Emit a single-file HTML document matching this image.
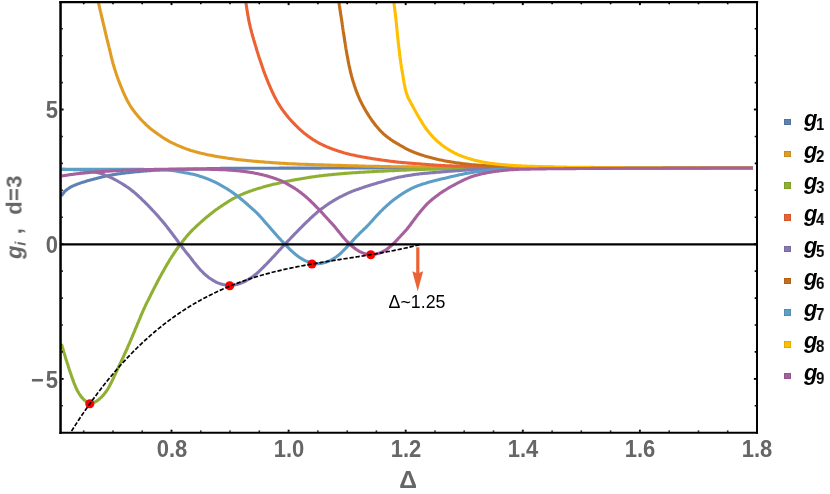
<!DOCTYPE html><html><head><meta charset="utf-8"><title>chart</title><style>
html,body{margin:0;padding:0;background:#fff}
#p{position:relative;width:830px;height:494px;overflow:hidden;background:#fff;font-family:"Liberation Sans",sans-serif}
.t{position:absolute;white-space:nowrap;line-height:1;will-change:transform;-webkit-font-smoothing:antialiased}
.tk{font-weight:bold;font-size:22px;color:#666666}
.lg{font-weight:bold;font-style:italic;font-size:22.3px;color:#000}
.sb{font-weight:bold;font-style:normal;font-size:14.8px}
.sq{position:absolute;width:6px;height:6px;border:0.7px solid}

</style></head><body><div id="p">
<svg width="830" height="494" viewBox="0 0 830 494" style="position:absolute;left:0;top:0">
<defs><clipPath id="c"><rect x="60.5" y="2.0" width="696.5" height="430.8"/></clipPath></defs>
<g clip-path="url(#c)" fill="none" stroke-linejoin="round" stroke-linecap="butt">
<path d="M61.5,196.0 L62.0,195.1 L62.5,194.3 L63.1,193.5 L63.7,192.7 L64.3,191.9 L65.0,191.2 L65.7,190.5 L66.5,189.9 L67.3,189.3 L68.1,188.7 L68.9,188.2 L69.8,187.6 L70.6,187.1 L71.5,186.7 L72.4,186.2 L73.3,185.8 L74.2,185.4 L75.2,185.0 L76.1,184.6 L77.0,184.3 L78.0,183.9 L78.9,183.6 L79.8,183.3 L80.8,182.9 L81.7,182.6 L82.7,182.3 L83.6,182.0 L84.6,181.7 L85.5,181.4 L86.5,181.1 L87.5,180.8 L88.4,180.5 L89.4,180.3 L90.4,180.0 L91.3,179.8 L92.3,179.5 L93.3,179.3 L94.2,179.0 L95.2,178.7 L96.2,178.5 L97.1,178.2 L98.1,178.0 L99.1,177.7 L100.0,177.5 L101.0,177.3 L102.0,177.0 L103.0,176.8 L103.9,176.6 L104.9,176.3 L105.9,176.1 L106.9,175.9 L107.8,175.7 L108.8,175.5 L109.8,175.3 L110.8,175.2 L111.8,175.0 L112.8,174.8 L113.7,174.6 L114.7,174.5 L115.7,174.3 L116.7,174.1 L117.7,174.0 L118.7,173.8 L119.7,173.7 L120.7,173.6 L121.7,173.4 L122.6,173.3 L123.6,173.2 L124.6,173.1 L125.6,172.9 L126.6,172.8 L127.6,172.7 L128.6,172.6 L129.6,172.5 L130.6,172.4 L131.6,172.3 L132.6,172.2 L133.6,172.0 L134.6,171.9 L135.6,171.8 L136.6,171.8 L137.6,171.7 L138.6,171.6 L139.6,171.5 L140.6,171.4 L141.5,171.3 L142.5,171.2 L143.5,171.1 L144.5,171.0 L145.5,171.0 L146.5,170.9 L147.5,170.8 L148.5,170.7 L149.5,170.7 L150.5,170.6 L151.5,170.5 L152.5,170.5 L153.5,170.4 L154.5,170.3 L155.5,170.3 L156.5,170.2 L157.5,170.2 L158.5,170.1 L159.5,170.1 L160.5,170.0 L161.5,170.0 L162.5,169.9 L163.5,169.9 L164.5,169.9 L165.5,169.8 L166.5,169.8 L167.5,169.8 L168.5,169.7 L169.5,169.7 L170.5,169.7 L171.5,169.6 L172.5,169.6 L173.5,169.5 L174.5,169.5 L175.5,169.5 L176.5,169.5 L177.5,169.4 L178.5,169.4 L179.5,169.4 L180.5,169.3 L181.5,169.3 L182.5,169.3 L183.5,169.2 L184.5,169.2 L185.5,169.2 L186.5,169.1 L187.5,169.1 L188.5,169.1 L189.5,169.1 L190.5,169.0 L191.5,169.0 L192.5,169.0 L193.5,169.0 L194.5,168.9 L195.5,168.9 L196.5,168.9 L197.5,168.9 L198.5,168.8 L199.5,168.8 L200.5,168.8 L201.5,168.8 L202.5,168.7 L203.5,168.7 L204.5,168.7 L205.5,168.7 L206.5,168.7 L207.5,168.6 L208.5,168.6 L209.5,168.6 L210.5,168.6 L211.5,168.6 L212.5,168.6 L213.5,168.5 L214.5,168.5 L215.5,168.5 L216.5,168.5 L217.5,168.5 L218.5,168.5 L219.5,168.5 L220.5,168.4 L221.5,168.4 L222.5,168.4 L223.5,168.4 L224.5,168.4 L225.5,168.4 L226.5,168.4 L227.5,168.4 L228.5,168.4 L229.5,168.3 L230.5,168.3 L231.5,168.3 L232.5,168.3 L233.5,168.3 L234.5,168.3 L235.5,168.3 L236.5,168.3 L237.5,168.3 L238.5,168.3 L239.5,168.3 L240.5,168.3 L241.5,168.3 L242.5,168.3 L243.5,168.3 L244.5,168.3 L245.5,168.2 L246.5,168.2 L247.5,168.2 L248.5,168.2 L249.5,168.2 L250.5,168.2 L251.5,168.2 L252.5,168.2 L253.5,168.2 L254.5,168.2 L255.5,168.2 L256.5,168.2 L257.5,168.2 L258.5,168.2 L259.5,168.2 L260.5,168.2 L261.5,168.2 L262.5,168.2 L263.5,168.2 L264.5,168.2 L265.5,168.2 L266.5,168.2 L267.5,168.2 L268.5,168.2 L269.5,168.2 L270.5,168.2 L271.5,168.2 L272.5,168.2 L273.5,168.2 L274.5,168.2 L275.6,168.2 L276.6,168.2 L277.6,168.2 L278.6,168.2 L279.6,168.1 L280.6,168.1 L281.6,168.1 L282.6,168.1 L283.6,168.1 L284.6,168.1 L285.6,168.1 L286.6,168.1 L287.6,168.1 L288.6,168.1 L289.6,168.1 L290.6,168.1 L291.6,168.1 L292.6,168.1 L293.6,168.1 L294.6,168.1 L295.6,168.1 L296.6,168.1 L297.6,168.1 L298.6,168.1 L299.6,168.1 L300.6,168.1 L301.6,168.1 L302.6,168.1 L303.6,168.1 L304.6,168.1 L305.6,168.1 L306.6,168.1 L307.6,168.1 L308.6,168.1 L309.6,168.1 L310.6,168.1 L311.6,168.1 L312.6,168.1 L313.6,168.1 L314.6,168.1 L315.6,168.1 L316.6,168.1 L317.6,168.1 L318.6,168.1 L319.6,168.1 L320.6,168.1 L321.6,168.0 L322.6,168.0 L323.6,168.0 L324.6,168.0 L325.6,168.0 L326.6,168.0 L327.6,168.0 L328.6,168.0 L329.6,168.0 L330.6,168.0 L331.6,168.0 L332.6,168.0 L333.6,168.0 L334.6,168.0 L335.6,168.0 L336.6,168.0 L337.6,168.0 L338.6,168.0 L339.6,168.0 L340.6,168.0 L341.6,168.0 L342.6,168.0 L343.6,168.0 L344.6,168.0 L345.6,168.0 L346.6,168.0 L347.6,168.0 L348.6,168.0 L349.6,168.0 L350.6,168.0 L351.6,168.0 L352.6,168.0 L353.6,168.0 L354.6,168.0 L355.6,168.0 L356.6,168.0 L357.6,168.0 L358.6,168.0 L359.6,168.0 L360.6,168.0 L361.6,168.0 L362.6,168.0 L363.6,168.0 L364.6,168.0 L365.6,168.0 L366.6,168.0 L367.6,168.0 L368.6,168.0 L369.6,168.0 L370.6,168.0 L371.6,168.0 L372.6,168.0 L373.6,168.0 L374.6,168.0 L375.6,168.0 L376.6,168.0 L377.6,168.0 L378.6,168.0 L379.6,168.0 L380.6,168.0 L381.6,168.0 L382.6,168.0 L383.6,168.0 L384.6,168.0 L385.6,168.0 L386.6,168.0 L387.6,168.0 L388.6,168.0 L389.6,168.0 L390.6,168.0 L391.6,168.0 L392.6,168.0 L393.6,168.0 L394.6,168.0 L395.6,168.0 L396.6,168.0 L397.6,168.0 L398.6,168.0 L399.6,168.0 L400.6,168.0 L401.6,168.0 L402.6,168.0 L403.6,168.0 L404.6,168.0 L405.6,168.0 L406.6,168.0 L407.6,168.0 L408.6,168.0 L409.6,168.0 L410.6,168.0 L411.6,168.0 L412.6,168.0 L413.6,168.0 L414.6,168.0 L415.6,168.0 L416.6,168.0 L417.6,168.0 L418.6,168.0 L419.6,168.0 L420.6,168.0 L421.6,168.0 L422.6,168.0 L423.6,168.0 L424.6,168.0 L425.6,168.0 L426.6,168.0 L427.6,168.0 L428.6,168.0 L429.6,168.0 L430.6,168.0 L431.6,168.0 L432.6,168.0 L433.6,168.0 L434.6,168.0 L435.6,168.0 L436.6,168.0 L437.6,168.0 L438.6,168.0 L439.6,168.0 L440.6,168.0 L441.6,168.0 L442.6,168.0 L443.6,168.0 L444.6,168.0 L445.6,168.0 L446.6,168.0 L447.6,168.0 L448.6,168.0 L449.6,168.0 L450.6,168.0 L451.6,168.0 L452.6,168.0 L453.6,168.0 L454.6,168.0 L455.6,168.0 L456.6,168.0 L457.6,168.0 L458.6,168.0 L459.6,168.0 L460.6,168.0 L461.6,168.0 L462.6,168.0 L463.6,168.0 L464.6,168.0 L465.6,168.0 L466.7,168.0 L467.7,168.0 L468.7,168.0 L469.7,168.0 L470.7,168.0 L471.7,168.0 L472.7,168.0 L473.7,168.0 L474.7,168.0 L475.7,168.0 L476.7,168.0 L477.7,168.0 L478.7,168.0 L479.7,168.0 L480.7,168.0 L481.7,168.0 L482.7,168.0 L483.7,168.0 L484.7,168.0 L485.7,168.0 L486.7,168.0 L487.7,168.0 L488.7,168.0 L489.7,168.0 L490.7,168.0 L491.7,168.0 L492.7,168.0 L493.7,168.0 L494.7,168.0 L495.7,168.0 L496.7,168.0 L497.7,168.0 L498.7,168.0 L499.7,168.0 L500.7,168.0 L501.7,168.0 L502.7,168.0 L503.7,168.0 L504.7,168.0 L505.7,168.0 L506.7,168.0 L507.7,168.0 L508.7,168.0 L509.7,168.0 L510.7,168.0 L511.7,168.0 L512.7,168.0 L513.7,168.0 L514.7,168.0 L515.7,168.0 L516.7,168.0 L517.7,168.0 L518.7,168.0 L519.7,168.0 L520.7,168.0 L521.7,168.0 L522.7,168.0 L523.7,168.0 L524.7,168.0 L525.7,168.0 L526.7,168.0 L527.7,168.0 L528.7,168.0 L529.7,168.0 L530.7,168.0 L531.7,168.0 L532.7,168.0 L533.7,168.0 L534.7,168.0 L535.7,168.0 L536.7,168.0 L537.7,168.0 L538.7,168.0 L539.7,168.0 L540.7,168.0 L541.7,168.0 L542.7,168.0 L543.7,168.0 L544.7,168.0 L545.7,168.0 L546.7,168.0 L547.7,168.0 L548.7,168.0 L549.7,168.0 L550.7,168.0 L551.7,168.0 L552.7,168.0 L553.7,168.0 L554.7,168.0 L555.7,168.0 L556.7,168.0 L557.7,168.0 L558.7,168.0 L559.7,168.0 L560.7,168.0 L561.7,168.0 L562.7,168.0 L563.7,168.0 L564.7,168.0 L565.7,168.0 L566.7,168.0 L567.7,168.0 L568.7,168.0 L569.7,168.0 L570.7,168.0 L571.7,168.0 L572.7,168.0 L573.7,168.0 L574.7,168.0 L575.7,168.0 L576.7,168.0 L577.7,168.0 L578.7,168.0 L579.7,168.0 L580.7,168.0 L581.7,168.0 L582.7,168.0 L583.7,168.0 L584.7,168.0 L585.7,168.0 L586.7,168.0 L587.7,168.0 L588.7,168.0 L589.7,168.0 L590.7,168.0 L591.7,168.0 L592.7,168.0 L593.7,168.0 L594.7,168.0 L595.7,168.0 L596.7,168.0 L597.7,168.0 L598.7,168.0 L599.7,168.0 L600.7,168.0 L601.7,168.0 L602.7,168.0 L603.7,168.0 L604.7,168.0 L605.7,168.0 L606.7,168.0 L607.7,168.0 L608.7,168.0 L609.7,168.0 L610.7,168.0 L611.7,168.0 L612.7,168.0 L613.7,168.0 L614.7,168.0 L615.7,168.0 L616.7,168.0 L617.7,168.0 L618.7,168.0 L619.7,168.0 L620.7,168.0 L621.7,168.0 L622.7,168.0 L623.7,168.0 L624.7,168.0 L625.7,168.0 L626.7,168.0 L627.7,168.0 L628.7,168.0 L629.7,168.0 L630.7,168.0 L631.7,168.0 L632.7,168.0 L633.7,168.0 L634.7,168.0 L635.7,168.0 L636.7,168.0 L637.7,168.0 L638.7,168.0 L639.7,168.0 L640.7,168.0 L641.7,168.0 L642.7,168.0 L643.7,168.0 L644.7,168.0 L645.7,168.0 L646.7,168.0 L647.7,168.0 L648.7,168.0 L649.7,168.0 L650.7,168.0 L651.7,168.0 L652.7,168.0 L653.7,168.0 L654.7,168.0 L655.7,168.0 L656.7,168.0 L657.8,168.0 L658.8,168.0 L659.8,168.0 L660.8,168.0 L661.8,168.0 L662.8,168.0 L663.8,168.0 L664.8,168.0 L665.8,168.0 L666.8,168.0 L667.8,168.0 L668.8,168.0 L669.8,168.0 L670.8,168.0 L671.8,168.0 L672.8,168.0 L673.8,168.0 L674.8,168.0 L675.8,168.0 L676.8,168.0 L677.8,168.0 L678.8,168.0 L679.8,168.0 L680.8,168.0 L681.8,168.0 L682.8,168.0 L683.8,168.0 L684.8,168.0 L685.8,168.0 L686.8,168.0 L687.8,168.0 L688.8,168.0 L689.8,168.0 L690.8,168.0 L691.8,168.0 L692.8,168.0 L693.8,168.0 L694.8,168.0 L695.8,168.0 L696.8,168.0 L697.8,168.0 L698.8,168.0 L699.8,168.0 L700.8,168.0 L701.8,168.0 L702.8,168.0 L703.8,168.0 L704.8,168.0 L705.8,168.0 L706.8,168.0 L707.8,168.0 L708.8,168.0 L709.8,168.0 L710.8,168.0 L711.8,168.0 L712.8,168.0 L713.8,168.0 L714.8,168.0 L715.8,168.0 L716.8,168.0 L717.8,168.0 L718.8,168.0 L719.8,168.0 L720.8,168.0 L721.8,168.0 L722.8,168.0 L723.8,168.0 L724.8,168.0 L725.8,168.0 L726.8,168.0 L727.8,168.0 L728.8,168.0 L729.8,168.0 L730.8,168.0 L731.8,168.0 L732.8,168.0 L733.8,168.0 L734.8,168.0 L735.8,168.0 L736.8,168.0 L737.8,168.0 L738.8,168.0 L739.8,168.0 L740.8,168.0 L741.8,168.0 L742.8,168.0 L743.8,168.0 L744.8,168.0 L745.8,168.0 L746.8,168.0 L747.8,168.0 L748.8,168.0 L749.8,168.0 L750.8,168.0 L751.8,168.0 L752.8,168.0" stroke="#5E81B5" stroke-width="3.1"/>
<path d="M97.4,-2.0 L97.6,-1.0 L97.8,-0.0 L98.0,0.9 L98.3,1.9 L98.5,2.9 L98.7,3.9 L98.9,4.8 L99.2,5.8 L99.4,6.8 L99.6,7.8 L99.8,8.7 L100.1,9.7 L100.3,10.7 L100.5,11.6 L100.8,12.6 L101.0,13.6 L101.2,14.6 L101.4,15.5 L101.7,16.5 L101.9,17.5 L102.1,18.5 L102.4,19.4 L102.6,20.4 L102.8,21.4 L103.0,22.4 L103.3,23.3 L103.5,24.3 L103.7,25.3 L104.0,26.2 L104.2,27.2 L104.4,28.2 L104.6,29.2 L104.9,30.1 L105.1,31.1 L105.3,32.1 L105.5,33.1 L105.8,34.0 L106.0,35.0 L106.2,36.0 L106.5,37.0 L106.7,37.9 L106.9,38.9 L107.2,39.9 L107.4,40.8 L107.7,41.8 L107.9,42.8 L108.2,43.8 L108.4,44.7 L108.7,45.7 L108.9,46.7 L109.1,47.6 L109.4,48.6 L109.6,49.6 L109.8,50.5 L110.1,51.5 L110.3,52.5 L110.5,53.5 L110.7,54.4 L111.0,55.4 L111.2,56.4 L111.4,57.4 L111.7,58.3 L111.9,59.3 L112.2,60.3 L112.4,61.2 L112.7,62.2 L113.0,63.2 L113.2,64.1 L113.5,65.1 L113.8,66.0 L114.1,67.0 L114.4,68.0 L114.7,68.9 L115.0,69.9 L115.3,70.8 L115.6,71.8 L115.9,72.7 L116.2,73.7 L116.5,74.6 L116.8,75.6 L117.1,76.5 L117.5,77.5 L117.8,78.4 L118.2,79.3 L118.5,80.3 L118.9,81.2 L119.2,82.2 L119.6,83.1 L119.9,84.0 L120.3,84.9 L120.7,85.9 L121.1,86.8 L121.5,87.7 L121.9,88.6 L122.2,89.6 L122.6,90.5 L123.0,91.4 L123.4,92.3 L123.8,93.2 L124.2,94.1 L124.6,95.1 L125.1,96.0 L125.5,96.9 L125.9,97.8 L126.4,98.7 L126.8,99.6 L127.2,100.5 L127.7,101.3 L128.2,102.2 L128.7,103.1 L129.2,104.0 L129.7,104.8 L130.2,105.7 L130.7,106.5 L131.3,107.4 L131.8,108.2 L132.4,109.0 L133.0,109.8 L133.6,110.6 L134.2,111.4 L134.8,112.2 L135.4,113.0 L136.0,113.8 L136.7,114.6 L137.3,115.3 L137.9,116.1 L138.6,116.9 L139.3,117.6 L139.9,118.4 L140.6,119.1 L141.3,119.8 L142.0,120.5 L142.7,121.3 L143.4,122.0 L144.1,122.7 L144.8,123.4 L145.5,124.1 L146.2,124.8 L146.9,125.5 L147.7,126.2 L148.4,126.8 L149.2,127.5 L149.9,128.1 L150.7,128.8 L151.5,129.4 L152.3,130.0 L153.1,130.6 L153.9,131.2 L154.7,131.8 L155.5,132.4 L156.3,132.9 L157.1,133.5 L157.9,134.1 L158.7,134.7 L159.6,135.3 L160.4,135.8 L161.2,136.4 L162.0,137.0 L162.9,137.5 L163.7,138.1 L164.6,138.6 L165.4,139.1 L166.3,139.6 L167.1,140.1 L168.0,140.6 L168.9,141.1 L169.7,141.6 L170.6,142.1 L171.5,142.5 L172.4,143.0 L173.3,143.4 L174.2,143.8 L175.1,144.2 L176.0,144.7 L176.9,145.1 L177.9,145.5 L178.8,145.9 L179.7,146.3 L180.6,146.6 L181.5,147.0 L182.5,147.4 L183.4,147.8 L184.3,148.1 L185.3,148.5 L186.2,148.8 L187.1,149.2 L188.1,149.5 L189.0,149.8 L190.0,150.2 L190.9,150.5 L191.9,150.8 L192.8,151.1 L193.8,151.3 L194.8,151.6 L195.7,151.9 L196.7,152.1 L197.7,152.4 L198.6,152.6 L199.6,152.9 L200.6,153.1 L201.5,153.4 L202.5,153.6 L203.5,153.8 L204.5,154.0 L205.4,154.2 L206.4,154.5 L207.4,154.7 L208.4,154.9 L209.4,155.1 L210.3,155.3 L211.3,155.4 L212.3,155.6 L213.3,155.8 L214.3,156.0 L215.3,156.2 L216.2,156.4 L217.2,156.5 L218.2,156.7 L219.2,156.9 L220.2,157.0 L221.2,157.2 L222.2,157.3 L223.1,157.5 L224.1,157.6 L225.1,157.8 L226.1,157.9 L227.1,158.1 L228.1,158.2 L229.1,158.4 L230.1,158.5 L231.1,158.6 L232.0,158.8 L233.0,158.9 L234.0,159.0 L235.0,159.2 L236.0,159.3 L237.0,159.4 L238.0,159.6 L239.0,159.7 L240.0,159.8 L241.0,159.9 L242.0,160.0 L243.0,160.1 L244.0,160.2 L245.0,160.3 L246.0,160.4 L246.9,160.5 L247.9,160.6 L248.9,160.7 L249.9,160.8 L250.9,160.9 L251.9,161.0 L252.9,161.1 L253.9,161.2 L254.9,161.3 L255.9,161.4 L256.9,161.4 L257.9,161.5 L258.9,161.6 L259.9,161.7 L260.9,161.8 L261.9,161.8 L262.9,161.9 L263.9,162.0 L264.9,162.1 L265.9,162.2 L266.9,162.2 L267.9,162.3 L268.9,162.4 L269.9,162.5 L270.9,162.5 L271.9,162.6 L272.9,162.7 L273.9,162.8 L274.9,162.8 L275.9,162.9 L276.8,163.0 L277.8,163.0 L278.8,163.1 L279.8,163.1 L280.8,163.2 L281.8,163.3 L282.8,163.3 L283.8,163.4 L284.8,163.4 L285.8,163.5 L286.8,163.6 L287.8,163.6 L288.8,163.7 L289.8,163.7 L290.8,163.8 L291.8,163.8 L292.8,163.9 L293.8,163.9 L294.8,163.9 L295.8,164.0 L296.8,164.0 L297.8,164.1 L298.8,164.1 L299.8,164.2 L300.8,164.2 L301.8,164.2 L302.8,164.3 L303.8,164.3 L304.8,164.3 L305.8,164.4 L306.8,164.4 L307.8,164.4 L308.8,164.5 L309.8,164.5 L310.8,164.5 L311.8,164.6 L312.8,164.6 L313.8,164.6 L314.8,164.7 L315.8,164.7 L316.8,164.7 L317.8,164.8 L318.8,164.8 L319.8,164.8 L320.8,164.9 L321.8,164.9 L322.8,164.9 L323.8,164.9 L324.8,165.0 L325.8,165.0 L326.8,165.0 L327.8,165.1 L328.8,165.1 L329.8,165.1 L330.8,165.1 L331.8,165.2 L332.8,165.2 L333.8,165.2 L334.8,165.3 L335.8,165.3 L336.8,165.3 L337.8,165.4 L338.8,165.4 L339.8,165.4 L340.8,165.4 L341.8,165.5 L342.8,165.5 L343.8,165.5 L344.8,165.6 L345.8,165.6 L346.8,165.6 L347.8,165.7 L348.8,165.7 L349.8,165.7 L350.8,165.7 L351.8,165.8 L352.8,165.8 L353.8,165.8 L354.8,165.9 L355.8,165.9 L356.8,165.9 L357.8,165.9 L358.8,166.0 L359.8,166.0 L360.8,166.0 L361.8,166.0 L362.8,166.1 L363.8,166.1 L364.8,166.1 L365.8,166.2 L366.8,166.2 L367.8,166.2 L368.8,166.2 L369.8,166.2 L370.8,166.3 L371.8,166.3 L372.8,166.3 L373.8,166.3 L374.8,166.4 L375.8,166.4 L376.8,166.4 L377.8,166.4 L378.8,166.4 L379.8,166.5 L380.8,166.5 L381.8,166.5 L382.8,166.5 L383.8,166.5 L384.8,166.6 L385.8,166.6 L386.8,166.6 L387.8,166.6 L388.8,166.6 L389.8,166.6 L390.8,166.7 L391.8,166.7 L392.8,166.7 L393.8,166.7 L394.8,166.7 L395.8,166.7 L396.8,166.7 L397.8,166.8 L398.8,166.8 L399.8,166.8 L400.8,166.8 L401.8,166.8 L402.8,166.8 L403.8,166.8 L404.8,166.8 L405.8,166.8 L406.8,166.9 L407.8,166.9 L408.8,166.9 L409.8,166.9 L410.8,166.9 L411.8,166.9 L412.8,166.9 L413.8,166.9 L414.8,166.9 L415.8,167.0 L416.8,167.0 L417.8,167.0 L418.8,167.0 L419.8,167.0 L420.8,167.0 L421.8,167.0 L422.8,167.0 L423.8,167.0 L424.8,167.0 L425.8,167.0 L426.8,167.1 L427.8,167.1 L428.8,167.1 L429.8,167.1 L430.8,167.1 L431.8,167.1 L432.8,167.1 L433.8,167.1 L434.8,167.1 L435.8,167.1 L436.8,167.1 L437.8,167.2 L438.8,167.2 L439.8,167.2 L440.8,167.2 L441.8,167.2 L442.8,167.2 L443.8,167.2 L444.8,167.2 L445.8,167.2 L446.8,167.2 L447.8,167.2 L448.8,167.2 L449.8,167.2 L450.8,167.3 L451.8,167.3 L452.8,167.3 L453.8,167.3 L454.8,167.3 L455.8,167.3 L456.8,167.3 L457.8,167.3 L458.8,167.3 L459.8,167.3 L460.8,167.3 L461.8,167.3 L462.8,167.3 L463.8,167.3 L464.8,167.4 L465.8,167.4 L466.8,167.4 L467.8,167.4 L468.8,167.4 L469.8,167.4 L470.8,167.4 L471.8,167.4 L472.8,167.4 L473.8,167.4 L474.8,167.4 L475.8,167.4 L476.8,167.4 L477.8,167.4 L478.8,167.4 L479.8,167.4 L480.8,167.4 L481.8,167.4 L482.8,167.4 L483.8,167.5 L484.8,167.5 L485.8,167.5 L486.8,167.5 L487.8,167.5 L488.8,167.5 L489.8,167.5 L490.8,167.5 L491.8,167.5 L492.8,167.5 L493.8,167.5 L494.8,167.5 L495.8,167.5 L496.8,167.5 L497.8,167.5 L498.8,167.5 L499.8,167.5 L500.8,167.5 L501.8,167.5 L502.8,167.5 L503.8,167.5 L504.8,167.5 L505.8,167.5 L506.8,167.5 L507.8,167.5 L508.8,167.6 L509.8,167.6 L510.8,167.6 L511.8,167.6 L512.8,167.6 L513.8,167.6 L514.8,167.6 L515.8,167.6 L516.8,167.6 L517.8,167.6 L518.8,167.6 L519.8,167.6 L520.8,167.6 L521.8,167.6 L522.8,167.6 L523.8,167.6 L524.8,167.6 L525.8,167.6 L526.8,167.6 L527.8,167.6 L528.8,167.6 L529.8,167.7 L530.8,167.7 L531.8,167.7 L532.8,167.7 L533.8,167.7 L534.8,167.7 L535.8,167.7 L536.8,167.7 L537.8,167.7 L538.8,167.7 L539.8,167.7 L540.8,167.7 L541.8,167.7 L542.8,167.7 L543.8,167.7 L544.8,167.7 L545.8,167.7 L546.8,167.8 L547.8,167.8 L548.8,167.8 L549.8,167.8 L550.8,167.8 L551.8,167.8 L552.8,167.8 L553.8,167.8 L554.8,167.8 L555.8,167.8 L556.8,167.8 L557.8,167.8 L558.8,167.8 L559.8,167.8 L560.8,167.8 L561.8,167.8 L562.8,167.8 L563.8,167.9 L564.8,167.9 L565.8,167.9 L566.8,167.9 L567.8,167.9 L568.8,167.9 L569.8,167.9 L570.8,167.9 L571.8,167.9 L572.8,167.9 L573.8,167.9 L574.8,167.9 L575.8,167.9 L576.8,167.9 L577.8,167.9 L578.8,167.9 L579.8,167.9 L580.8,167.9 L581.8,167.9 L582.8,167.9 L583.8,167.9 L584.8,168.0 L585.8,168.0 L586.8,168.0 L587.8,168.0 L588.8,168.0 L589.8,168.0 L590.8,168.0 L591.8,168.0 L592.8,168.0 L593.8,168.0 L594.8,168.0 L595.8,168.0 L596.8,168.0 L597.8,168.0 L598.8,168.0 L599.8,168.0 L600.8,168.0 L601.8,168.0 L602.8,168.0 L603.8,168.0 L604.8,168.0 L605.8,168.0 L606.8,168.0 L607.8,168.0 L608.8,168.0 L609.8,168.0 L610.8,168.0 L611.8,168.0 L612.8,168.0 L613.8,168.0 L614.8,168.0 L615.8,168.0 L616.8,168.0 L617.8,168.0 L618.8,168.0 L619.8,168.0 L620.8,168.0 L621.8,168.0 L622.8,168.0 L623.8,168.0 L624.8,168.0 L625.8,168.0 L626.8,168.0 L627.8,168.0 L628.8,168.0 L629.8,168.0 L630.8,168.0 L631.8,168.0 L632.8,168.0 L633.8,168.0 L634.8,168.0 L635.8,168.0 L636.8,168.0 L637.8,168.0 L638.8,168.0 L639.8,168.0 L640.8,168.0 L641.8,168.0 L642.8,168.0 L643.8,168.0 L644.8,168.0 L645.8,168.0 L646.8,168.0 L647.8,168.0 L648.8,168.0 L649.8,168.0 L650.8,168.0 L651.8,168.0 L652.8,168.0 L653.8,168.0 L654.8,168.0 L655.8,168.0 L656.8,168.0 L657.8,168.0 L658.8,168.0 L659.8,168.0 L660.8,168.0 L661.8,168.0 L662.8,168.0 L663.8,168.0 L664.8,168.0 L665.8,168.0 L666.8,168.0 L667.8,168.0 L668.8,168.0 L669.8,168.0 L670.8,168.0 L671.8,168.0 L672.8,168.0 L673.8,168.0 L674.8,168.0 L675.8,168.0 L676.8,168.0 L677.8,168.0 L678.8,168.0 L679.8,168.0 L680.8,168.0 L681.8,168.0 L682.8,168.0 L683.8,168.0 L684.8,168.0 L685.8,168.0 L686.8,168.0 L687.8,168.0 L688.8,168.0 L689.8,168.0 L690.8,168.0 L691.8,168.0 L692.8,168.0 L693.8,168.0 L694.8,168.0 L695.8,168.0 L696.8,168.0 L697.8,168.0 L698.8,168.0 L699.8,168.0 L700.8,168.0 L701.8,168.0 L702.8,168.0 L703.8,168.0 L704.8,168.0 L705.8,168.0 L706.8,168.0 L707.8,168.0 L708.8,168.0 L709.8,168.0 L710.8,168.0 L711.8,168.0 L712.8,168.0 L713.8,168.0 L714.8,168.0 L715.8,168.0 L716.8,168.0 L717.8,168.0 L718.8,168.0 L719.8,168.0 L720.8,168.0 L721.8,168.0 L722.8,168.0 L723.8,168.0 L724.8,168.0 L725.8,168.0 L726.8,168.0 L727.8,168.0 L728.8,168.0 L729.8,168.0 L730.8,168.0 L731.8,168.0 L732.8,168.0 L733.8,168.0 L734.8,168.0 L735.8,168.0 L736.8,168.0 L737.8,168.0 L738.8,168.0 L739.8,168.0 L740.8,168.0 L741.8,168.0 L742.8,168.0 L743.8,168.0 L744.8,168.0 L745.8,168.0 L746.8,168.0 L747.8,168.0 L748.8,168.0 L749.8,168.0 L750.8,168.0 L751.8,168.0 L752.8,168.0" stroke="#E19C24" stroke-width="3.1"/>
<path d="M61.5,344.0 L61.8,345.0 L62.1,345.9 L62.3,346.9 L62.6,347.8 L62.9,348.8 L63.2,349.8 L63.4,350.7 L63.7,351.7 L64.0,352.6 L64.3,353.6 L64.6,354.6 L64.9,355.5 L65.2,356.5 L65.5,357.4 L65.7,358.4 L66.0,359.3 L66.4,360.3 L66.7,361.3 L67.0,362.2 L67.3,363.2 L67.6,364.1 L67.9,365.1 L68.2,366.0 L68.5,367.0 L68.8,367.9 L69.1,368.9 L69.4,369.8 L69.7,370.8 L70.1,371.7 L70.4,372.7 L70.7,373.6 L71.0,374.6 L71.3,375.5 L71.7,376.5 L72.0,377.4 L72.3,378.4 L72.7,379.3 L73.0,380.2 L73.3,381.2 L73.7,382.1 L74.0,383.0 L74.4,384.0 L74.8,384.9 L75.2,385.8 L75.6,386.7 L75.9,387.7 L76.4,388.6 L76.8,389.5 L77.2,390.4 L77.7,391.3 L78.2,392.1 L78.7,393.0 L79.2,393.8 L79.8,394.7 L80.3,395.5 L80.9,396.3 L81.5,397.1 L82.2,397.8 L82.9,398.6 L83.6,399.3 L84.3,400.0 L85.0,400.6 L85.8,401.2 L86.6,401.7 L87.5,402.2 L88.4,402.6 L89.3,402.9 L90.2,403.0 L91.1,403.0 L92.1,402.9 L93.0,402.7 L94.0,402.4 L94.9,402.0 L95.7,401.6 L96.6,401.1 L97.4,400.5 L98.2,400.0 L99.0,399.3 L99.8,398.7 L100.5,398.0 L101.2,397.3 L101.9,396.6 L102.6,395.9 L103.3,395.2 L103.9,394.4 L104.6,393.6 L105.2,392.8 L105.8,392.0 L106.3,391.2 L106.9,390.4 L107.5,389.6 L108.0,388.7 L108.5,387.8 L109.0,387.0 L109.5,386.1 L109.9,385.2 L110.4,384.3 L110.8,383.4 L111.3,382.5 L111.7,381.6 L112.2,380.7 L112.6,379.8 L113.0,378.9 L113.5,378.0 L113.9,377.1 L114.3,376.2 L114.7,375.3 L115.1,374.4 L115.6,373.5 L116.0,372.6 L116.4,371.7 L116.8,370.8 L117.2,369.9 L117.7,369.0 L118.1,368.0 L118.5,367.1 L118.9,366.2 L119.4,365.3 L119.8,364.4 L120.2,363.5 L120.6,362.6 L121.1,361.7 L121.5,360.8 L121.9,359.9 L122.3,359.0 L122.8,358.1 L123.2,357.2 L123.6,356.3 L124.0,355.4 L124.4,354.4 L124.8,353.5 L125.3,352.6 L125.7,351.7 L126.1,350.8 L126.5,349.9 L126.9,349.0 L127.3,348.1 L127.7,347.1 L128.1,346.2 L128.5,345.3 L128.9,344.4 L129.3,343.5 L129.7,342.6 L130.1,341.6 L130.5,340.7 L130.9,339.8 L131.3,338.9 L131.7,338.0 L132.1,337.0 L132.4,336.1 L132.8,335.2 L133.2,334.3 L133.6,333.3 L134.0,332.4 L134.4,331.5 L134.8,330.6 L135.1,329.7 L135.5,328.7 L135.9,327.8 L136.3,326.9 L136.7,326.0 L137.1,325.0 L137.4,324.1 L137.8,323.2 L138.2,322.3 L138.6,321.3 L139.0,320.4 L139.4,319.5 L139.8,318.6 L140.2,317.6 L140.5,316.7 L140.9,315.8 L141.3,314.9 L141.7,314.0 L142.1,313.0 L142.5,312.1 L142.9,311.2 L143.3,310.3 L143.7,309.4 L144.1,308.5 L144.5,307.6 L145.0,306.6 L145.4,305.7 L145.8,304.8 L146.2,303.9 L146.7,303.0 L147.1,302.1 L147.6,301.2 L148.0,300.4 L148.5,299.5 L148.9,298.6 L149.4,297.7 L149.8,296.8 L150.3,295.9 L150.7,295.0 L151.2,294.1 L151.6,293.2 L152.1,292.3 L152.5,291.4 L153.0,290.5 L153.4,289.6 L153.9,288.7 L154.3,287.8 L154.8,287.0 L155.2,286.1 L155.7,285.2 L156.2,284.3 L156.6,283.4 L157.1,282.5 L157.5,281.6 L158.0,280.7 L158.5,279.9 L158.9,279.0 L159.4,278.1 L159.9,277.2 L160.4,276.3 L160.9,275.4 L161.3,274.6 L161.8,273.7 L162.3,272.8 L162.8,271.9 L163.3,271.1 L163.8,270.2 L164.3,269.3 L164.7,268.5 L165.2,267.6 L165.7,266.7 L166.2,265.9 L166.7,265.0 L167.2,264.1 L167.8,263.3 L168.3,262.4 L168.8,261.5 L169.3,260.7 L169.8,259.8 L170.3,259.0 L170.9,258.1 L171.4,257.3 L171.9,256.4 L172.5,255.6 L173.0,254.8 L173.6,253.9 L174.1,253.1 L174.7,252.3 L175.3,251.4 L175.8,250.6 L176.4,249.8 L177.0,249.0 L177.6,248.2 L178.1,247.4 L178.7,246.5 L179.3,245.7 L179.9,244.9 L180.5,244.1 L181.1,243.3 L181.8,242.6 L182.4,241.8 L183.0,241.0 L183.6,240.2 L184.2,239.4 L184.9,238.7 L185.5,237.9 L186.1,237.1 L186.8,236.3 L187.4,235.6 L188.1,234.8 L188.7,234.0 L189.4,233.3 L190.0,232.5 L190.7,231.8 L191.4,231.1 L192.1,230.4 L192.8,229.7 L193.5,229.0 L194.2,228.3 L195.0,227.6 L195.7,226.9 L196.4,226.2 L197.2,225.5 L197.9,224.9 L198.7,224.2 L199.4,223.5 L200.1,222.9 L200.9,222.2 L201.6,221.5 L202.4,220.8 L203.1,220.2 L203.9,219.5 L204.6,218.9 L205.4,218.2 L206.2,217.6 L206.9,216.9 L207.7,216.3 L208.5,215.7 L209.3,215.1 L210.1,214.4 L210.8,213.8 L211.6,213.2 L212.4,212.6 L213.2,211.9 L214.0,211.3 L214.8,210.7 L215.6,210.1 L216.4,209.5 L217.2,209.0 L218.0,208.4 L218.8,207.8 L219.7,207.2 L220.5,206.7 L221.3,206.1 L222.1,205.6 L223.0,205.0 L223.8,204.5 L224.6,203.9 L225.5,203.4 L226.3,202.8 L227.2,202.3 L228.0,201.7 L228.9,201.2 L229.7,200.7 L230.6,200.2 L231.4,199.7 L232.3,199.2 L233.2,198.7 L234.1,198.2 L235.0,197.8 L235.8,197.3 L236.7,196.9 L237.6,196.4 L238.5,196.0 L239.4,195.5 L240.3,195.1 L241.2,194.7 L242.1,194.3 L243.1,193.9 L244.0,193.5 L244.9,193.1 L245.8,192.7 L246.8,192.4 L247.7,192.0 L248.6,191.7 L249.6,191.3 L250.5,191.0 L251.5,190.7 L252.4,190.4 L253.4,190.0 L254.3,189.7 L255.3,189.4 L256.2,189.1 L257.2,188.8 L258.1,188.5 L259.1,188.2 L260.1,187.9 L261.0,187.7 L262.0,187.4 L262.9,187.1 L263.9,186.8 L264.9,186.6 L265.8,186.3 L266.8,186.0 L267.8,185.8 L268.7,185.5 L269.7,185.3 L270.7,185.0 L271.6,184.8 L272.6,184.6 L273.6,184.3 L274.6,184.1 L275.5,183.9 L276.5,183.7 L277.5,183.4 L278.5,183.2 L279.4,183.0 L280.4,182.8 L281.4,182.6 L282.4,182.3 L283.3,182.1 L284.3,181.9 L285.3,181.7 L286.3,181.5 L287.3,181.3 L288.2,181.1 L289.2,180.9 L290.2,180.7 L291.2,180.5 L292.2,180.3 L293.2,180.1 L294.1,180.0 L295.1,179.8 L296.1,179.6 L297.1,179.4 L298.1,179.2 L299.1,179.1 L300.0,178.9 L301.0,178.7 L302.0,178.6 L303.0,178.4 L304.0,178.2 L305.0,178.1 L306.0,177.9 L307.0,177.7 L307.9,177.6 L308.9,177.4 L309.9,177.3 L310.9,177.1 L311.9,177.0 L312.9,176.8 L313.9,176.7 L314.9,176.6 L315.9,176.4 L316.9,176.3 L317.8,176.2 L318.8,176.0 L319.8,175.9 L320.8,175.8 L321.8,175.7 L322.8,175.6 L323.8,175.4 L324.8,175.3 L325.8,175.2 L326.8,175.1 L327.8,175.0 L328.8,174.9 L329.8,174.8 L330.8,174.7 L331.8,174.6 L332.8,174.5 L333.8,174.4 L334.8,174.3 L335.7,174.2 L336.7,174.1 L337.7,174.0 L338.7,174.0 L339.7,173.9 L340.7,173.8 L341.7,173.7 L342.7,173.6 L343.7,173.5 L344.7,173.4 L345.7,173.4 L346.7,173.3 L347.7,173.2 L348.7,173.1 L349.7,173.0 L350.7,173.0 L351.7,172.9 L352.7,172.8 L353.7,172.8 L354.7,172.7 L355.7,172.6 L356.7,172.6 L357.7,172.5 L358.7,172.4 L359.7,172.4 L360.7,172.3 L361.7,172.2 L362.7,172.2 L363.7,172.1 L364.7,172.1 L365.7,172.0 L366.7,172.0 L367.7,171.9 L368.7,171.9 L369.7,171.8 L370.7,171.8 L371.7,171.7 L372.7,171.6 L373.7,171.6 L374.7,171.5 L375.7,171.5 L376.7,171.4 L377.7,171.4 L378.7,171.3 L379.7,171.3 L380.7,171.2 L381.7,171.2 L382.7,171.1 L383.7,171.1 L384.7,171.0 L385.7,171.0 L386.7,170.9 L387.7,170.9 L388.7,170.8 L389.7,170.8 L390.7,170.7 L391.7,170.7 L392.7,170.7 L393.7,170.6 L394.7,170.6 L395.7,170.5 L396.7,170.5 L397.7,170.4 L398.7,170.4 L399.7,170.3 L400.7,170.3 L401.7,170.2 L402.7,170.2 L403.7,170.1 L404.7,170.1 L405.7,170.1 L406.7,170.0 L407.6,170.0 L408.6,169.9 L409.6,169.9 L410.6,169.8 L411.6,169.8 L412.6,169.8 L413.6,169.7 L414.6,169.7 L415.6,169.7 L416.6,169.6 L417.6,169.6 L418.6,169.5 L419.6,169.5 L420.6,169.5 L421.6,169.4 L422.6,169.4 L423.6,169.4 L424.6,169.4 L425.6,169.3 L426.6,169.3 L427.6,169.3 L428.6,169.2 L429.6,169.2 L430.6,169.2 L431.6,169.2 L432.6,169.1 L433.6,169.1 L434.6,169.1 L435.6,169.1 L436.6,169.0 L437.6,169.0 L438.6,169.0 L439.6,169.0 L440.6,168.9 L441.7,168.9 L442.7,168.9 L443.7,168.9 L444.7,168.8 L445.7,168.8 L446.7,168.8 L447.7,168.8 L448.7,168.8 L449.7,168.7 L450.7,168.7 L451.7,168.7 L452.7,168.7 L453.7,168.7 L454.7,168.6 L455.7,168.6 L456.7,168.6 L457.7,168.6 L458.7,168.6 L459.7,168.6 L460.7,168.5 L461.7,168.5 L462.7,168.5 L463.7,168.5 L464.7,168.5 L465.7,168.5 L466.7,168.4 L467.7,168.4 L468.7,168.4 L469.7,168.4 L470.7,168.4 L471.7,168.4 L472.7,168.3 L473.7,168.3 L474.7,168.3 L475.7,168.3 L476.7,168.3 L477.7,168.3 L478.7,168.3 L479.7,168.3 L480.7,168.2 L481.7,168.2 L482.7,168.2 L483.7,168.2 L484.7,168.2 L485.7,168.2 L486.7,168.2 L487.7,168.2 L488.7,168.2 L489.7,168.2 L490.7,168.1 L491.7,168.1 L492.7,168.1 L493.7,168.1 L494.7,168.1 L495.7,168.1 L496.7,168.1 L497.7,168.1 L498.7,168.1 L499.7,168.1 L500.7,168.1 L501.7,168.1 L502.7,168.1 L503.7,168.1 L504.7,168.1 L505.7,168.1 L506.7,168.0 L507.7,168.0 L508.7,168.0 L509.7,168.0 L510.7,168.0 L511.7,168.0 L512.7,168.0 L513.7,168.0 L514.7,168.0 L515.7,168.0 L516.7,168.0 L517.7,168.0 L518.7,168.0 L519.7,168.0 L520.7,168.0 L521.7,168.0 L522.7,168.0 L523.7,168.0 L524.7,168.0 L525.7,168.0 L526.7,168.0 L527.7,168.0 L528.7,168.0 L529.7,168.0 L530.7,168.0 L531.7,168.0 L532.7,168.0 L533.7,168.0 L534.7,168.0 L535.7,168.0 L536.7,168.0 L537.7,168.0 L538.7,168.0 L539.7,168.0 L540.7,168.0 L541.7,168.0 L542.7,168.0 L543.7,168.0 L544.7,168.0 L545.7,168.0 L546.7,168.0 L547.7,168.0 L548.7,168.0 L549.7,168.0 L550.7,168.0 L551.7,168.0 L552.7,168.0 L553.7,168.0 L554.7,168.0 L555.7,168.0 L556.7,168.0 L557.7,168.0 L558.7,168.0 L559.7,168.0 L560.7,168.0 L561.7,168.0 L562.7,168.0 L563.7,168.0 L564.7,168.0 L565.7,168.0 L566.7,168.0 L567.7,168.0 L568.7,168.0 L569.7,168.0 L570.7,168.0 L571.7,168.0 L572.7,168.0 L573.7,168.0 L574.7,168.0 L575.7,168.0 L576.7,168.0 L577.7,168.0 L578.7,168.0 L579.7,168.0 L580.7,168.0 L581.7,168.0 L582.7,168.0 L583.7,168.0 L584.7,168.0 L585.7,168.0 L586.7,168.0 L587.7,168.0 L588.7,168.0 L589.7,168.0 L590.7,168.0 L591.7,168.0 L592.7,168.0 L593.7,168.0 L594.7,168.0 L595.7,168.0 L596.7,168.0 L597.7,168.0 L598.7,168.0 L599.7,168.0 L600.7,168.0 L601.7,168.0 L602.7,168.0 L603.7,168.0 L604.7,168.0 L605.7,168.0 L606.7,168.0 L607.7,168.0 L608.7,168.0 L609.7,168.0 L610.7,168.0 L611.7,168.0 L612.7,168.0 L613.7,168.0 L614.7,168.0 L615.7,168.0 L616.7,168.0 L617.7,168.0 L618.7,168.0 L619.7,168.0 L620.7,168.0 L621.7,168.0 L622.7,168.0 L623.7,168.0 L624.7,168.0 L625.7,168.0 L626.7,168.0 L627.7,168.0 L628.7,168.0 L629.7,168.0 L630.7,168.0 L631.7,168.0 L632.7,168.0 L633.7,168.0 L634.7,168.0 L635.7,168.0 L636.7,168.0 L637.7,168.0 L638.7,168.0 L639.7,168.0 L640.7,168.0 L641.7,168.0 L642.7,168.0 L643.7,168.0 L644.7,168.0 L645.7,168.0 L646.7,168.0 L647.7,168.0 L648.7,168.0 L649.7,168.0 L650.7,168.0 L651.7,168.0 L652.7,168.0 L653.8,168.0 L654.8,168.0 L655.8,168.0 L656.8,168.0 L657.8,168.0 L658.8,168.0 L659.8,168.0 L660.8,168.0 L661.8,168.0 L662.8,168.0 L663.8,168.0 L664.8,168.0 L665.8,168.0 L666.8,168.0 L667.8,168.0 L668.8,168.0 L669.8,168.0 L670.8,168.0 L671.8,168.0 L672.8,168.0 L673.8,168.0 L674.8,168.0 L675.8,168.0 L676.8,168.0 L677.8,168.0 L678.8,168.0 L679.8,168.0 L680.8,168.0 L681.8,168.0 L682.8,168.0 L683.8,168.0 L684.8,168.0 L685.8,168.0 L686.8,168.0 L687.8,168.0 L688.8,168.0 L689.8,168.0 L690.8,168.0 L691.8,168.0 L692.8,168.0 L693.8,168.0 L694.8,168.0 L695.8,168.0 L696.8,168.0 L697.8,168.0 L698.8,168.0 L699.8,168.0 L700.8,168.0 L701.8,168.0 L702.8,168.0 L703.8,168.0 L704.8,168.0 L705.8,168.0 L706.8,168.0 L707.8,168.0 L708.8,168.0 L709.8,168.0 L710.8,168.0 L711.8,168.0 L712.8,168.0 L713.8,168.0 L714.8,168.0 L715.8,168.0 L716.8,168.0 L717.8,168.0 L718.8,168.0 L719.8,168.0 L720.8,168.0 L721.8,168.0 L722.8,168.0 L723.8,168.0 L724.8,168.0 L725.8,168.0 L726.8,168.0 L727.8,168.0 L728.8,168.0 L729.8,168.0 L730.8,168.0 L731.8,168.0 L732.8,168.0 L733.8,168.0 L734.8,168.0 L735.8,168.0 L736.8,168.0 L737.8,168.0 L738.8,168.0 L739.8,168.0 L740.8,168.0 L741.8,168.0 L742.8,168.0 L743.8,168.0 L744.8,168.0 L745.8,168.0 L746.8,168.0 L747.8,168.0 L748.8,168.0 L749.8,168.0 L750.8,168.0 L751.8,168.0 L752.8,168.0" stroke="#8FB032" stroke-width="3.1"/>
<path d="M245.6,-2.0 L245.7,-1.0 L245.8,-0.0 L245.8,1.0 L245.9,2.0 L246.0,3.0 L246.1,4.0 L246.3,5.0 L246.4,6.0 L246.5,6.9 L246.7,7.9 L246.8,8.9 L247.0,9.9 L247.1,10.9 L247.3,11.9 L247.5,12.9 L247.6,13.9 L247.8,14.8 L248.0,15.8 L248.2,16.8 L248.3,17.8 L248.5,18.8 L248.7,19.8 L248.9,20.7 L249.1,21.7 L249.3,22.7 L249.5,23.7 L249.8,24.7 L250.0,25.6 L250.2,26.6 L250.4,27.6 L250.7,28.6 L250.9,29.5 L251.1,30.5 L251.4,31.5 L251.6,32.4 L251.9,33.4 L252.2,34.4 L252.4,35.3 L252.7,36.3 L253.0,37.2 L253.3,38.2 L253.6,39.2 L253.8,40.1 L254.1,41.1 L254.4,42.0 L254.7,43.0 L255.0,44.0 L255.3,44.9 L255.6,45.9 L255.9,46.8 L256.1,47.8 L256.4,48.7 L256.7,49.7 L257.0,50.7 L257.3,51.6 L257.6,52.6 L257.9,53.5 L258.2,54.5 L258.5,55.4 L258.8,56.4 L259.1,57.3 L259.4,58.3 L259.8,59.2 L260.1,60.2 L260.4,61.1 L260.7,62.1 L261.0,63.0 L261.3,64.0 L261.7,64.9 L262.0,65.9 L262.3,66.8 L262.6,67.8 L263.0,68.7 L263.3,69.7 L263.6,70.6 L264.0,71.5 L264.3,72.5 L264.6,73.4 L265.0,74.4 L265.4,75.3 L265.7,76.2 L266.1,77.2 L266.4,78.1 L266.8,79.0 L267.2,79.9 L267.6,80.9 L267.9,81.8 L268.3,82.7 L268.7,83.7 L269.1,84.6 L269.5,85.5 L269.9,86.4 L270.3,87.3 L270.7,88.3 L271.1,89.2 L271.5,90.1 L271.9,91.0 L272.3,91.9 L272.7,92.8 L273.2,93.7 L273.6,94.6 L274.0,95.5 L274.5,96.4 L274.9,97.3 L275.4,98.2 L275.9,99.1 L276.3,99.9 L276.8,100.8 L277.3,101.7 L277.8,102.6 L278.3,103.4 L278.8,104.3 L279.4,105.1 L279.9,106.0 L280.4,106.8 L281.0,107.6 L281.5,108.5 L282.1,109.3 L282.7,110.1 L283.3,110.9 L283.9,111.7 L284.5,112.5 L285.1,113.3 L285.7,114.1 L286.3,114.9 L286.9,115.7 L287.6,116.4 L288.2,117.2 L288.9,118.0 L289.5,118.7 L290.2,119.5 L290.9,120.2 L291.5,121.0 L292.2,121.7 L292.9,122.4 L293.6,123.2 L294.3,123.9 L295.0,124.6 L295.7,125.3 L296.4,126.0 L297.1,126.7 L297.8,127.4 L298.5,128.1 L299.3,128.8 L300.0,129.5 L300.7,130.1 L301.5,130.8 L302.2,131.5 L303.0,132.1 L303.8,132.8 L304.5,133.4 L305.3,134.0 L306.1,134.6 L306.9,135.2 L307.7,135.8 L308.5,136.4 L309.3,137.0 L310.1,137.6 L310.9,138.2 L311.8,138.7 L312.6,139.3 L313.5,139.8 L314.3,140.3 L315.2,140.9 L316.0,141.4 L316.9,141.9 L317.8,142.4 L318.6,142.8 L319.5,143.3 L320.4,143.8 L321.3,144.2 L322.2,144.7 L323.1,145.1 L324.0,145.5 L324.9,145.9 L325.8,146.3 L326.7,146.7 L327.7,147.1 L328.6,147.5 L329.5,147.9 L330.4,148.3 L331.4,148.6 L332.3,149.0 L333.2,149.3 L334.2,149.6 L335.1,150.0 L336.1,150.3 L337.0,150.6 L338.0,150.9 L338.9,151.2 L339.9,151.5 L340.8,151.8 L341.8,152.1 L342.8,152.4 L343.7,152.7 L344.7,153.0 L345.6,153.2 L346.6,153.5 L347.6,153.7 L348.5,154.0 L349.5,154.2 L350.5,154.5 L351.5,154.7 L352.4,154.9 L353.4,155.1 L354.4,155.3 L355.4,155.6 L356.3,155.8 L357.3,156.0 L358.3,156.2 L359.3,156.3 L360.3,156.5 L361.3,156.7 L362.2,156.9 L363.2,157.1 L364.2,157.3 L365.2,157.4 L366.2,157.6 L367.2,157.8 L368.1,157.9 L369.1,158.1 L370.1,158.3 L371.1,158.4 L372.1,158.6 L373.1,158.7 L374.1,158.9 L375.1,159.0 L376.1,159.2 L377.0,159.3 L378.0,159.5 L379.0,159.6 L380.0,159.8 L381.0,159.9 L382.0,160.1 L383.0,160.2 L384.0,160.3 L385.0,160.5 L386.0,160.6 L386.9,160.8 L387.9,160.9 L388.9,161.0 L389.9,161.2 L390.9,161.3 L391.9,161.4 L392.9,161.5 L393.9,161.6 L394.9,161.8 L395.9,161.9 L396.9,162.0 L397.9,162.1 L398.9,162.2 L399.9,162.3 L400.9,162.4 L401.8,162.5 L402.8,162.6 L403.8,162.6 L404.8,162.7 L405.8,162.8 L406.8,162.9 L407.8,163.0 L408.8,163.1 L409.8,163.1 L410.8,163.2 L411.8,163.3 L412.8,163.4 L413.8,163.5 L414.8,163.5 L415.8,163.6 L416.8,163.7 L417.8,163.8 L418.8,163.8 L419.8,163.9 L420.8,164.0 L421.8,164.1 L422.8,164.2 L423.8,164.2 L424.8,164.3 L425.8,164.4 L426.8,164.5 L427.8,164.6 L428.8,164.6 L429.8,164.7 L430.8,164.8 L431.8,164.9 L432.8,164.9 L433.8,165.0 L434.8,165.1 L435.8,165.1 L436.8,165.2 L437.7,165.3 L438.7,165.3 L439.7,165.4 L440.7,165.4 L441.7,165.5 L442.7,165.5 L443.7,165.6 L444.7,165.6 L445.7,165.7 L446.7,165.7 L447.7,165.8 L448.7,165.8 L449.7,165.8 L450.7,165.9 L451.7,165.9 L452.7,166.0 L453.7,166.0 L454.7,166.0 L455.7,166.1 L456.7,166.1 L457.7,166.1 L458.7,166.2 L459.7,166.2 L460.7,166.2 L461.7,166.3 L462.7,166.3 L463.7,166.3 L464.7,166.4 L465.7,166.4 L466.7,166.4 L467.7,166.5 L468.7,166.5 L469.7,166.5 L470.7,166.6 L471.7,166.6 L472.7,166.6 L473.7,166.7 L474.7,166.7 L475.7,166.7 L476.7,166.7 L477.7,166.7 L478.7,166.8 L479.7,166.8 L480.7,166.8 L481.7,166.8 L482.7,166.8 L483.7,166.9 L484.7,166.9 L485.7,166.9 L486.7,166.9 L487.7,166.9 L488.7,166.9 L489.7,167.0 L490.7,167.0 L491.7,167.0 L492.7,167.0 L493.7,167.0 L494.7,167.0 L495.7,167.0 L496.7,167.0 L497.7,167.0 L498.7,167.1 L499.7,167.1 L500.7,167.1 L501.7,167.1 L502.7,167.1 L503.7,167.1 L504.7,167.1 L505.7,167.1 L506.7,167.1 L507.7,167.1 L508.7,167.1 L509.7,167.1 L510.7,167.2 L511.7,167.2 L512.7,167.2 L513.7,167.2 L514.7,167.2 L515.7,167.2 L516.7,167.2 L517.7,167.2 L518.7,167.2 L519.7,167.2 L520.7,167.2 L521.7,167.2 L522.7,167.3 L523.7,167.3 L524.7,167.3 L525.7,167.3 L526.7,167.3 L527.7,167.3 L528.7,167.3 L529.7,167.3 L530.7,167.3 L531.7,167.3 L532.7,167.3 L533.7,167.3 L534.7,167.4 L535.7,167.4 L536.7,167.4 L537.7,167.4 L538.7,167.4 L539.7,167.4 L540.7,167.4 L541.7,167.4 L542.7,167.4 L543.7,167.4 L544.7,167.5 L545.7,167.5 L546.7,167.5 L547.7,167.5 L548.7,167.5 L549.7,167.5 L550.7,167.5 L551.7,167.5 L552.7,167.5 L553.7,167.6 L554.7,167.6 L555.7,167.6 L556.7,167.6 L557.7,167.6 L558.7,167.6 L559.7,167.6 L560.7,167.6 L561.7,167.7 L562.7,167.7 L563.7,167.7 L564.7,167.7 L565.7,167.7 L566.7,167.7 L567.7,167.7 L568.7,167.7 L569.7,167.7 L570.8,167.8 L571.8,167.8 L572.8,167.8 L573.8,167.8 L574.8,167.8 L575.8,167.8 L576.8,167.8 L577.8,167.8 L578.8,167.8 L579.8,167.9 L580.8,167.9 L581.8,167.9 L582.8,167.9 L583.8,167.9 L584.8,167.9 L585.8,167.9 L586.8,167.9 L587.8,167.9 L588.8,167.9 L589.8,167.9 L590.8,167.9 L591.8,168.0 L592.8,168.0 L593.8,168.0 L594.8,168.0 L595.8,168.0 L596.8,168.0 L597.8,168.0 L598.8,168.0 L599.8,168.0 L600.8,168.0 L601.8,168.0 L602.8,168.0 L603.8,168.0 L604.8,168.0 L605.8,168.0 L606.8,168.0 L607.8,168.0 L608.8,168.0 L609.8,168.0 L610.8,168.0 L611.8,168.0 L612.8,168.0 L613.8,168.1 L614.8,168.1 L615.8,168.1 L616.8,168.1 L617.8,168.1 L618.8,168.1 L619.8,168.1 L620.8,168.1 L621.8,168.1 L622.8,168.1 L623.8,168.1 L624.8,168.1 L625.8,168.1 L626.8,168.1 L627.8,168.1 L628.8,168.1 L629.8,168.1 L630.8,168.1 L631.8,168.1 L632.8,168.1 L633.8,168.1 L634.8,168.1 L635.8,168.1 L636.8,168.1 L637.8,168.1 L638.8,168.1 L639.8,168.1 L640.8,168.1 L641.8,168.1 L642.8,168.1 L643.8,168.1 L644.8,168.1 L645.8,168.1 L646.8,168.1 L647.8,168.1 L648.8,168.1 L649.8,168.1 L650.8,168.1 L651.8,168.1 L652.8,168.1 L653.8,168.1 L654.8,168.1 L655.8,168.1 L656.8,168.1 L657.8,168.1 L658.8,168.1 L659.8,168.1 L660.8,168.1 L661.8,168.1 L662.8,168.1 L663.8,168.1 L664.8,168.1 L665.8,168.1 L666.8,168.1 L667.8,168.1 L668.8,168.1 L669.8,168.1 L670.8,168.1 L671.8,168.1 L672.8,168.1 L673.8,168.1 L674.8,168.1 L675.8,168.1 L676.8,168.1 L677.8,168.1 L678.8,168.1 L679.8,168.1 L680.8,168.1 L681.8,168.1 L682.8,168.1 L683.8,168.1 L684.8,168.1 L685.8,168.1 L686.8,168.1 L687.8,168.1 L688.8,168.1 L689.8,168.1 L690.8,168.1 L691.8,168.1 L692.8,168.1 L693.8,168.1 L694.8,168.0 L695.8,168.0 L696.8,168.0 L697.8,168.0 L698.8,168.0 L699.8,168.0 L700.8,168.0 L701.8,168.0 L702.8,168.0 L703.8,168.0 L704.8,168.0 L705.8,168.0 L706.8,168.0 L707.8,168.0 L708.8,168.0 L709.8,168.0 L710.8,168.0 L711.8,168.0 L712.8,168.0 L713.8,168.0 L714.8,168.0 L715.8,168.0 L716.8,168.0 L717.8,168.0 L718.8,168.0 L719.8,168.0 L720.8,168.0 L721.8,168.0 L722.8,168.0 L723.8,168.0 L724.8,168.0 L725.8,168.0 L726.8,168.0 L727.8,168.0 L728.8,168.0 L729.8,168.0 L730.8,168.0 L731.8,168.0 L732.8,168.0 L733.8,168.0 L734.8,168.0 L735.8,168.0 L736.8,168.0 L737.8,168.0 L738.8,168.0 L739.8,168.0 L740.8,168.0 L741.8,168.0 L742.8,168.0 L743.8,168.0 L744.8,168.0 L745.8,168.0 L746.8,168.0 L747.8,168.0 L748.8,168.0 L749.8,168.0 L750.8,168.0 L751.8,168.0 L752.8,168.0" stroke="#EB6235" stroke-width="3.1"/>
<path d="M61.5,169.4 L62.5,169.4 L63.5,169.4 L64.5,169.4 L65.5,169.5 L66.5,169.5 L67.5,169.5 L68.5,169.5 L69.5,169.5 L70.5,169.5 L71.5,169.5 L72.5,169.5 L73.5,169.6 L74.5,169.6 L75.5,169.6 L76.5,169.7 L77.5,169.7 L78.5,169.7 L79.5,169.8 L80.5,169.9 L81.5,169.9 L82.5,170.0 L83.5,170.1 L84.5,170.2 L85.5,170.3 L86.5,170.4 L87.5,170.5 L88.4,170.6 L89.4,170.8 L90.4,170.9 L91.4,171.1 L92.4,171.3 L93.4,171.5 L94.3,171.7 L95.3,172.0 L96.3,172.2 L97.3,172.5 L98.2,172.7 L99.2,173.0 L100.1,173.3 L101.1,173.6 L102.0,173.9 L103.0,174.3 L103.9,174.6 L104.8,175.0 L105.8,175.4 L106.7,175.7 L107.6,176.1 L108.5,176.5 L109.4,176.9 L110.3,177.4 L111.3,177.8 L112.2,178.2 L113.1,178.6 L114.0,179.1 L114.8,179.5 L115.7,180.0 L116.6,180.5 L117.5,181.0 L118.3,181.5 L119.2,182.0 L120.0,182.5 L120.9,183.0 L121.8,183.5 L122.6,184.1 L123.5,184.6 L124.3,185.1 L125.1,185.6 L126.0,186.2 L126.8,186.8 L127.6,187.3 L128.5,187.9 L129.3,188.5 L130.1,189.1 L130.9,189.7 L131.6,190.3 L132.4,190.9 L133.2,191.5 L134.0,192.2 L134.8,192.8 L135.5,193.5 L136.3,194.1 L137.0,194.8 L137.8,195.5 L138.5,196.1 L139.2,196.8 L140.0,197.5 L140.7,198.2 L141.4,198.9 L142.1,199.6 L142.8,200.3 L143.6,201.0 L144.3,201.7 L145.0,202.4 L145.7,203.1 L146.4,203.8 L147.1,204.5 L147.8,205.2 L148.5,205.9 L149.2,206.7 L149.9,207.4 L150.6,208.1 L151.3,208.8 L151.9,209.5 L152.6,210.3 L153.3,211.0 L154.0,211.7 L154.7,212.5 L155.4,213.2 L156.0,213.9 L156.7,214.7 L157.4,215.4 L158.0,216.2 L158.7,216.9 L159.4,217.7 L160.0,218.4 L160.7,219.2 L161.3,220.0 L162.0,220.7 L162.6,221.5 L163.2,222.3 L163.9,223.0 L164.5,223.8 L165.1,224.6 L165.8,225.4 L166.4,226.1 L167.0,226.9 L167.6,227.7 L168.2,228.5 L168.8,229.3 L169.4,230.1 L170.1,230.9 L170.7,231.7 L171.3,232.5 L171.9,233.3 L172.5,234.1 L173.1,234.9 L173.7,235.7 L174.3,236.5 L174.9,237.3 L175.5,238.1 L176.1,238.9 L176.7,239.7 L177.3,240.5 L177.9,241.3 L178.4,242.1 L179.0,242.9 L179.6,243.7 L180.2,244.5 L180.8,245.3 L181.4,246.1 L182.0,246.9 L182.6,247.7 L183.2,248.5 L183.8,249.3 L184.5,250.1 L185.1,250.9 L185.7,251.7 L186.3,252.4 L186.9,253.2 L187.6,254.0 L188.2,254.8 L188.8,255.6 L189.4,256.3 L190.1,257.1 L190.7,257.9 L191.3,258.7 L191.9,259.5 L192.5,260.3 L193.1,261.1 L193.7,261.9 L194.4,262.7 L195.0,263.4 L195.6,264.2 L196.2,265.0 L196.9,265.8 L197.5,266.5 L198.1,267.3 L198.8,268.1 L199.4,268.8 L200.1,269.6 L200.8,270.3 L201.5,271.0 L202.2,271.7 L202.9,272.4 L203.6,273.1 L204.3,273.8 L205.1,274.5 L205.8,275.2 L206.6,275.8 L207.4,276.4 L208.1,277.0 L208.9,277.7 L209.7,278.2 L210.6,278.8 L211.4,279.3 L212.3,279.9 L213.1,280.4 L214.0,280.9 L214.9,281.4 L215.7,281.8 L216.6,282.3 L217.5,282.7 L218.5,283.1 L219.4,283.4 L220.3,283.8 L221.3,284.1 L222.2,284.3 L223.2,284.6 L224.2,284.8 L225.2,285.0 L226.1,285.1 L227.1,285.2 L228.1,285.3 L229.1,285.4 L230.1,285.4 L231.1,285.3 L232.1,285.3 L233.1,285.2 L234.1,285.0 L235.1,284.9 L236.0,284.6 L237.0,284.4 L238.0,284.1 L238.9,283.8 L239.9,283.5 L240.8,283.2 L241.7,282.8 L242.7,282.4 L243.6,282.1 L244.5,281.6 L245.4,281.2 L246.3,280.7 L247.1,280.2 L248.0,279.7 L248.8,279.2 L249.7,278.7 L250.5,278.1 L251.4,277.6 L252.2,277.0 L253.0,276.4 L253.8,275.8 L254.6,275.2 L255.4,274.6 L256.1,274.0 L256.9,273.3 L257.6,272.7 L258.4,272.0 L259.1,271.3 L259.8,270.6 L260.6,269.9 L261.3,269.2 L262.0,268.5 L262.7,267.8 L263.4,267.1 L264.1,266.4 L264.8,265.7 L265.5,265.0 L266.2,264.3 L266.9,263.5 L267.6,262.8 L268.3,262.1 L269.0,261.4 L269.7,260.6 L270.4,259.9 L271.0,259.2 L271.7,258.5 L272.4,257.7 L273.1,257.0 L273.8,256.3 L274.5,255.6 L275.1,254.8 L275.8,254.1 L276.5,253.3 L277.2,252.6 L277.8,251.9 L278.5,251.1 L279.2,250.4 L279.9,249.7 L280.6,248.9 L281.2,248.2 L281.9,247.5 L282.6,246.7 L283.3,246.0 L284.0,245.3 L284.7,244.6 L285.4,243.8 L286.0,243.1 L286.7,242.4 L287.4,241.6 L288.1,240.9 L288.8,240.2 L289.5,239.5 L290.2,238.7 L290.8,238.0 L291.5,237.3 L292.2,236.6 L292.9,235.9 L293.6,235.1 L294.3,234.4 L295.0,233.7 L295.7,233.0 L296.4,232.3 L297.1,231.5 L297.8,230.8 L298.5,230.1 L299.2,229.4 L299.9,228.7 L300.6,228.0 L301.3,227.3 L302.0,226.6 L302.7,225.9 L303.4,225.2 L304.2,224.4 L304.9,223.7 L305.6,223.0 L306.3,222.4 L307.0,221.7 L307.7,221.0 L308.5,220.3 L309.2,219.6 L309.9,218.9 L310.6,218.2 L311.4,217.5 L312.1,216.8 L312.8,216.2 L313.6,215.5 L314.3,214.8 L315.1,214.2 L315.8,213.5 L316.6,212.9 L317.3,212.2 L318.1,211.6 L318.9,210.9 L319.7,210.3 L320.4,209.7 L321.2,209.1 L322.0,208.5 L322.8,207.9 L323.6,207.3 L324.5,206.7 L325.3,206.1 L326.1,205.5 L326.9,205.0 L327.7,204.4 L328.5,203.8 L329.4,203.3 L330.2,202.7 L331.1,202.2 L331.9,201.7 L332.8,201.1 L333.6,200.6 L334.5,200.1 L335.3,199.6 L336.2,199.1 L337.1,198.6 L338.0,198.1 L338.8,197.7 L339.7,197.2 L340.6,196.7 L341.5,196.3 L342.4,195.8 L343.3,195.4 L344.2,194.9 L345.1,194.5 L346.0,194.1 L346.9,193.6 L347.8,193.2 L348.7,192.8 L349.6,192.4 L350.5,192.0 L351.5,191.6 L352.4,191.2 L353.3,190.9 L354.2,190.5 L355.2,190.2 L356.1,189.8 L357.1,189.5 L358.0,189.2 L359.0,188.9 L359.9,188.5 L360.8,188.2 L361.8,187.9 L362.7,187.6 L363.7,187.3 L364.6,186.9 L365.6,186.6 L366.5,186.3 L367.5,186.0 L368.4,185.7 L369.4,185.4 L370.4,185.1 L371.3,184.8 L372.3,184.5 L373.2,184.2 L374.2,183.9 L375.1,183.7 L376.1,183.4 L377.1,183.1 L378.0,182.8 L379.0,182.5 L379.9,182.3 L380.9,182.0 L381.9,181.7 L382.8,181.4 L383.8,181.2 L384.7,180.9 L385.7,180.6 L386.7,180.3 L387.6,180.1 L388.6,179.8 L389.6,179.5 L390.5,179.2 L391.5,179.0 L392.4,178.7 L393.4,178.5 L394.4,178.2 L395.4,178.0 L396.3,177.8 L397.3,177.6 L398.3,177.3 L399.3,177.1 L400.2,176.9 L401.2,176.7 L402.2,176.6 L403.2,176.4 L404.2,176.2 L405.2,176.0 L406.1,175.8 L407.1,175.7 L408.1,175.5 L409.1,175.4 L410.1,175.2 L411.1,175.1 L412.1,174.9 L413.1,174.8 L414.0,174.6 L415.0,174.5 L416.0,174.3 L417.0,174.2 L418.0,174.1 L419.0,174.0 L420.0,173.8 L421.0,173.7 L422.0,173.6 L423.0,173.5 L424.0,173.4 L425.0,173.3 L426.0,173.2 L427.0,173.1 L428.0,173.1 L429.0,173.0 L430.0,172.9 L430.9,172.8 L431.9,172.7 L432.9,172.6 L433.9,172.6 L434.9,172.5 L435.9,172.4 L436.9,172.3 L437.9,172.2 L438.9,172.1 L439.9,172.1 L440.9,172.0 L441.9,171.9 L442.9,171.8 L443.9,171.7 L444.9,171.6 L445.9,171.6 L446.9,171.5 L447.9,171.4 L448.9,171.3 L449.9,171.2 L450.9,171.2 L451.9,171.1 L452.9,171.0 L453.9,170.9 L454.9,170.9 L455.9,170.8 L456.9,170.7 L457.9,170.6 L458.9,170.6 L459.9,170.5 L460.9,170.4 L461.8,170.4 L462.8,170.3 L463.8,170.2 L464.8,170.1 L465.8,170.1 L466.8,170.0 L467.8,169.9 L468.8,169.9 L469.8,169.8 L470.8,169.8 L471.8,169.7 L472.8,169.6 L473.8,169.6 L474.8,169.5 L475.8,169.5 L476.8,169.4 L477.8,169.4 L478.8,169.3 L479.8,169.3 L480.8,169.2 L481.8,169.2 L482.8,169.1 L483.8,169.1 L484.8,169.0 L485.8,169.0 L486.8,168.9 L487.8,168.9 L488.8,168.9 L489.8,168.8 L490.8,168.8 L491.8,168.8 L492.8,168.7 L493.8,168.7 L494.8,168.7 L495.8,168.6 L496.8,168.6 L497.8,168.6 L498.8,168.6 L499.8,168.5 L500.8,168.5 L501.8,168.5 L502.8,168.5 L503.8,168.4 L504.8,168.4 L505.8,168.4 L506.8,168.4 L507.8,168.4 L508.8,168.3 L509.8,168.3 L510.8,168.3 L511.8,168.3 L512.8,168.3 L513.8,168.3 L514.8,168.3 L515.8,168.2 L516.8,168.2 L517.8,168.2 L518.8,168.2 L519.8,168.2 L520.8,168.2 L521.8,168.2 L522.8,168.2 L523.8,168.1 L524.8,168.1 L525.8,168.1 L526.8,168.1 L527.8,168.1 L528.8,168.1 L529.8,168.1 L530.8,168.1 L531.8,168.1 L532.8,168.1 L533.8,168.0 L534.8,168.0 L535.8,168.0 L536.8,168.0 L537.8,168.0 L538.8,168.0 L539.8,168.0 L540.8,168.0 L541.8,168.0 L542.8,168.0 L543.8,168.0 L544.8,168.0 L545.8,168.0 L546.8,168.0 L547.8,168.0 L548.8,168.0 L549.8,168.0 L550.8,168.0 L551.8,168.0 L552.8,167.9 L553.8,167.9 L554.8,167.9 L555.8,167.9 L556.8,167.9 L557.8,167.9 L558.8,167.9 L559.8,167.9 L560.8,167.9 L561.8,167.9 L562.8,167.9 L563.8,167.9 L564.8,167.9 L565.8,167.9 L566.8,168.0 L567.8,168.0 L568.8,168.0 L569.8,168.0 L570.8,168.0 L571.8,168.0 L572.8,168.0 L573.8,168.0 L574.8,168.0 L575.8,168.0 L576.8,168.0 L577.8,168.0 L578.8,168.0 L579.8,168.0 L580.8,168.0 L581.8,168.0 L582.8,168.0 L583.8,168.0 L584.8,168.0 L585.8,168.0 L586.8,168.0 L587.8,168.0 L588.8,168.0 L589.8,168.0 L590.8,168.0 L591.8,168.0 L592.8,168.0 L593.8,168.0 L594.8,168.0 L595.8,168.0 L596.8,168.0 L597.8,168.0 L598.8,168.0 L599.8,168.0 L600.8,168.0 L601.8,168.0 L602.8,168.0 L603.8,168.0 L604.8,168.0 L605.8,168.0 L606.8,168.0 L607.8,168.0 L608.8,168.0 L609.8,168.0 L610.8,168.0 L611.8,168.0 L612.8,168.0 L613.8,168.0 L614.8,168.0 L615.8,168.0 L616.8,168.0 L617.8,168.0 L618.8,168.0 L619.8,168.0 L620.8,168.0 L621.8,168.0 L622.8,168.0 L623.8,168.0 L624.8,168.0 L625.8,168.0 L626.8,168.0 L627.8,168.0 L628.8,168.0 L629.8,168.0 L630.8,168.0 L631.8,168.0 L632.8,168.0 L633.8,168.0 L634.8,168.0 L635.8,168.0 L636.8,168.0 L637.8,168.0 L638.8,168.0 L639.8,168.0 L640.8,168.0 L641.8,168.0 L642.8,168.0 L643.8,168.0 L644.8,168.0 L645.8,168.0 L646.8,168.0 L647.8,168.0 L648.8,168.0 L649.8,168.0 L650.8,168.0 L651.8,168.0 L652.8,168.0 L653.8,168.0 L654.8,168.0 L655.8,168.0 L656.8,168.0 L657.8,168.0 L658.8,168.0 L659.8,168.0 L660.8,168.0 L661.8,168.0 L662.8,168.0 L663.8,168.0 L664.8,168.0 L665.8,168.0 L666.8,168.0 L667.8,168.0 L668.8,168.0 L669.8,168.0 L670.8,168.0 L671.8,168.0 L672.8,168.0 L673.8,168.0 L674.8,168.0 L675.8,168.0 L676.8,168.0 L677.8,168.0 L678.8,168.0 L679.8,168.0 L680.8,168.0 L681.8,168.0 L682.8,168.0 L683.8,168.0 L684.8,168.0 L685.8,168.0 L686.8,168.0 L687.8,168.0 L688.8,168.0 L689.8,168.0 L690.8,168.0 L691.8,168.0 L692.8,168.0 L693.8,168.0 L694.8,168.0 L695.8,168.0 L696.8,168.0 L697.8,168.0 L698.8,168.0 L699.8,168.0 L700.8,168.0 L701.8,168.0 L702.8,168.0 L703.8,168.0 L704.8,168.0 L705.8,168.0 L706.8,168.0 L707.8,168.0 L708.8,168.0 L709.8,168.0 L710.8,168.0 L711.8,168.0 L712.8,168.0 L713.8,168.0 L714.8,168.0 L715.8,168.0 L716.8,168.0 L717.8,168.0 L718.8,168.0 L719.8,168.0 L720.8,168.0 L721.8,168.0 L722.8,168.0 L723.8,168.0 L724.8,168.0 L725.8,168.0 L726.8,168.0 L727.8,168.0 L728.8,168.0 L729.8,168.0 L730.8,168.0 L731.8,168.0 L732.8,168.0 L733.8,168.0 L734.8,168.0 L735.8,168.0 L736.8,168.0 L737.8,168.0 L738.8,168.0 L739.8,168.0 L740.8,168.0 L741.8,168.0 L742.8,168.0 L743.8,168.0 L744.8,168.0 L745.8,168.0 L746.8,168.0 L747.8,168.0 L748.8,168.0 L749.8,168.0 L750.8,168.0 L751.8,168.0 L752.8,168.0" stroke="#8778B3" stroke-width="3.1"/>
<path d="M338.6,-2.0 L338.7,-1.0 L338.8,-0.0 L338.8,1.0 L338.9,2.0 L339.0,3.0 L339.2,4.0 L339.3,5.0 L339.4,6.0 L339.6,6.9 L339.7,7.9 L339.9,8.9 L340.0,9.9 L340.2,10.9 L340.3,11.9 L340.5,12.9 L340.6,13.9 L340.8,14.9 L340.9,15.8 L341.1,16.8 L341.3,17.8 L341.4,18.8 L341.6,19.8 L341.7,20.8 L341.9,21.8 L342.0,22.8 L342.2,23.8 L342.3,24.7 L342.5,25.7 L342.6,26.7 L342.7,27.7 L342.9,28.7 L343.0,29.7 L343.2,30.7 L343.3,31.7 L343.5,32.7 L343.6,33.6 L343.8,34.6 L343.9,35.6 L344.1,36.6 L344.2,37.6 L344.4,38.6 L344.5,39.6 L344.7,40.6 L344.8,41.6 L345.0,42.5 L345.2,43.5 L345.3,44.5 L345.5,45.5 L345.6,46.5 L345.8,47.5 L345.9,48.5 L346.1,49.5 L346.3,50.4 L346.4,51.4 L346.6,52.4 L346.8,53.4 L346.9,54.4 L347.1,55.4 L347.3,56.4 L347.5,57.3 L347.7,58.3 L347.9,59.3 L348.0,60.3 L348.2,61.3 L348.4,62.3 L348.6,63.2 L348.8,64.2 L349.0,65.2 L349.2,66.2 L349.4,67.2 L349.7,68.1 L349.9,69.1 L350.1,70.1 L350.3,71.1 L350.5,72.0 L350.8,73.0 L351.0,74.0 L351.3,74.9 L351.5,75.9 L351.8,76.9 L352.0,77.8 L352.3,78.8 L352.6,79.8 L352.9,80.7 L353.2,81.7 L353.5,82.6 L353.8,83.6 L354.1,84.5 L354.4,85.5 L354.7,86.4 L355.0,87.4 L355.4,88.3 L355.7,89.3 L356.0,90.2 L356.3,91.2 L356.7,92.1 L357.1,93.0 L357.4,94.0 L357.8,94.9 L358.2,95.8 L358.6,96.7 L359.0,97.6 L359.4,98.6 L359.8,99.5 L360.2,100.4 L360.7,101.3 L361.1,102.2 L361.6,103.1 L362.0,104.0 L362.5,104.8 L362.9,105.7 L363.4,106.6 L363.9,107.5 L364.4,108.4 L364.9,109.2 L365.4,110.1 L365.9,110.9 L366.4,111.8 L366.9,112.7 L367.5,113.5 L368.0,114.4 L368.5,115.2 L369.0,116.1 L369.6,116.9 L370.1,117.7 L370.7,118.6 L371.3,119.4 L371.8,120.2 L372.4,121.0 L373.0,121.8 L373.6,122.6 L374.2,123.4 L374.8,124.2 L375.4,125.0 L376.0,125.8 L376.7,126.6 L377.3,127.3 L378.0,128.1 L378.6,128.8 L379.3,129.6 L380.0,130.3 L380.7,131.0 L381.4,131.8 L382.1,132.5 L382.8,133.1 L383.5,133.8 L384.3,134.5 L385.0,135.2 L385.8,135.8 L386.6,136.4 L387.4,137.0 L388.2,137.7 L389.0,138.2 L389.8,138.8 L390.6,139.4 L391.4,140.0 L392.2,140.5 L393.1,141.1 L393.9,141.6 L394.8,142.1 L395.6,142.7 L396.5,143.2 L397.3,143.7 L398.2,144.2 L399.1,144.7 L399.9,145.2 L400.8,145.7 L401.6,146.2 L402.5,146.7 L403.4,147.2 L404.3,147.7 L405.1,148.2 L406.0,148.7 L406.9,149.1 L407.8,149.5 L408.7,150.0 L409.6,150.4 L410.5,150.8 L411.5,151.2 L412.4,151.6 L413.3,152.0 L414.2,152.3 L415.2,152.7 L416.1,153.0 L417.0,153.4 L418.0,153.7 L418.9,154.1 L419.9,154.4 L420.8,154.7 L421.8,155.0 L422.7,155.3 L423.7,155.6 L424.6,155.9 L425.6,156.2 L426.6,156.5 L427.5,156.7 L428.5,157.0 L429.4,157.3 L430.4,157.5 L431.4,157.8 L432.3,158.0 L433.3,158.3 L434.3,158.5 L435.3,158.8 L436.2,159.0 L437.2,159.2 L438.2,159.5 L439.2,159.7 L440.1,159.9 L441.1,160.1 L442.1,160.3 L443.1,160.5 L444.1,160.7 L445.0,160.9 L446.0,161.1 L447.0,161.2 L448.0,161.4 L449.0,161.6 L450.0,161.8 L450.9,161.9 L451.9,162.1 L452.9,162.3 L453.9,162.4 L454.9,162.6 L455.9,162.7 L456.9,162.9 L457.9,163.0 L458.9,163.1 L459.8,163.3 L460.8,163.4 L461.8,163.5 L462.8,163.7 L463.8,163.8 L464.8,163.9 L465.8,164.0 L466.8,164.1 L467.8,164.3 L468.8,164.4 L469.8,164.5 L470.8,164.6 L471.8,164.7 L472.8,164.7 L473.8,164.8 L474.8,164.9 L475.8,165.0 L476.8,165.1 L477.8,165.1 L478.8,165.2 L479.7,165.3 L480.7,165.3 L481.7,165.4 L482.7,165.5 L483.7,165.5 L484.7,165.6 L485.7,165.7 L486.7,165.7 L487.7,165.8 L488.7,165.8 L489.7,165.9 L490.7,165.9 L491.7,166.0 L492.7,166.0 L493.7,166.1 L494.7,166.1 L495.7,166.1 L496.7,166.2 L497.7,166.2 L498.7,166.3 L499.7,166.3 L500.7,166.3 L501.7,166.4 L502.7,166.4 L503.7,166.4 L504.7,166.5 L505.7,166.5 L506.7,166.5 L507.7,166.5 L508.7,166.6 L509.7,166.6 L510.7,166.6 L511.7,166.6 L512.7,166.7 L513.7,166.7 L514.7,166.7 L515.7,166.7 L516.7,166.7 L517.7,166.8 L518.7,166.8 L519.7,166.8 L520.7,166.8 L521.7,166.9 L522.7,166.9 L523.7,166.9 L524.7,166.9 L525.7,166.9 L526.7,167.0 L527.7,167.0 L528.7,167.0 L529.7,167.0 L530.7,167.0 L531.7,167.0 L532.7,167.1 L533.7,167.1 L534.7,167.1 L535.7,167.1 L536.7,167.1 L537.7,167.2 L538.7,167.2 L539.7,167.2 L540.7,167.2 L541.7,167.2 L542.7,167.2 L543.7,167.3 L544.7,167.3 L545.7,167.3 L546.7,167.3 L547.7,167.3 L548.7,167.4 L549.7,167.4 L550.7,167.4 L551.7,167.4 L552.7,167.4 L553.7,167.4 L554.7,167.5 L555.7,167.5 L556.7,167.5 L557.7,167.5 L558.7,167.5 L559.7,167.5 L560.7,167.6 L561.7,167.6 L562.7,167.6 L563.7,167.6 L564.7,167.6 L565.7,167.6 L566.7,167.7 L567.7,167.7 L568.7,167.7 L569.7,167.7 L570.7,167.7 L571.7,167.7 L572.7,167.7 L573.7,167.7 L574.7,167.8 L575.7,167.8 L576.7,167.8 L577.7,167.8 L578.7,167.8 L579.7,167.8 L580.7,167.8 L581.7,167.8 L582.7,167.9 L583.7,167.9 L584.7,167.9 L585.7,167.9 L586.7,167.9 L587.7,167.9 L588.7,167.9 L589.7,167.9 L590.7,167.9 L591.7,167.9 L592.7,167.9 L593.7,168.0 L594.7,168.0 L595.7,168.0 L596.7,168.0 L597.7,168.0 L598.7,168.0 L599.7,168.0 L600.7,168.0 L601.7,168.0 L602.7,168.0 L603.7,168.0 L604.7,168.0 L605.7,168.0 L606.8,168.0 L607.8,168.0 L608.8,168.0 L609.8,168.1 L610.8,168.1 L611.8,168.1 L612.8,168.1 L613.8,168.1 L614.8,168.1 L615.8,168.1 L616.8,168.1 L617.8,168.1 L618.8,168.1 L619.8,168.1 L620.8,168.1 L621.8,168.1 L622.8,168.1 L623.8,168.1 L624.8,168.1 L625.8,168.1 L626.8,168.1 L627.8,168.1 L628.8,168.1 L629.8,168.1 L630.8,168.1 L631.8,168.1 L632.8,168.1 L633.8,168.1 L634.8,168.1 L635.8,168.1 L636.8,168.1 L637.8,168.1 L638.8,168.1 L639.8,168.1 L640.8,168.1 L641.8,168.1 L642.8,168.1 L643.8,168.1 L644.8,168.1 L645.8,168.1 L646.8,168.1 L647.8,168.1 L648.8,168.1 L649.8,168.1 L650.8,168.1 L651.8,168.1 L652.8,168.1 L653.8,168.1 L654.8,168.1 L655.8,168.1 L656.8,168.1 L657.8,168.1 L658.8,168.1 L659.8,168.1 L660.8,168.1 L661.8,168.1 L662.8,168.1 L663.8,168.1 L664.8,168.1 L665.8,168.1 L666.8,168.1 L667.8,168.1 L668.8,168.1 L669.8,168.1 L670.8,168.1 L671.8,168.1 L672.8,168.1 L673.8,168.1 L674.8,168.1 L675.8,168.1 L676.8,168.1 L677.8,168.1 L678.8,168.1 L679.8,168.1 L680.8,168.1 L681.8,168.1 L682.8,168.1 L683.8,168.1 L684.8,168.1 L685.8,168.1 L686.8,168.1 L687.8,168.1 L688.8,168.1 L689.8,168.1 L690.8,168.1 L691.8,168.1 L692.8,168.1 L693.8,168.1 L694.8,168.1 L695.8,168.1 L696.8,168.1 L697.8,168.1 L698.8,168.1 L699.8,168.1 L700.8,168.1 L701.8,168.1 L702.8,168.1 L703.8,168.1 L704.8,168.0 L705.8,168.0 L706.8,168.0 L707.8,168.0 L708.8,168.0 L709.8,168.0 L710.8,168.0 L711.8,168.0 L712.8,168.0 L713.8,168.0 L714.8,168.0 L715.8,168.0 L716.8,168.0 L717.8,168.0 L718.8,168.0 L719.8,168.0 L720.8,168.0 L721.8,168.0 L722.8,168.0 L723.8,168.0 L724.8,168.0 L725.8,168.0 L726.8,168.0 L727.8,168.0 L728.8,168.0 L729.8,168.0 L730.8,168.0 L731.8,168.0 L732.8,168.0 L733.8,168.0 L734.8,168.0 L735.8,168.0 L736.8,168.0 L737.8,168.0 L738.8,168.0 L739.8,168.0 L740.8,168.0 L741.8,168.0 L742.8,168.0 L743.8,168.0 L744.8,168.0 L745.8,168.0 L746.8,168.0 L747.8,168.0 L748.8,168.0 L749.8,168.0 L750.8,168.0 L751.8,168.0 L752.8,168.0" stroke="#C56E1A" stroke-width="3.1"/>
<path d="M61.5,169.4 L62.5,169.4 L63.5,169.4 L64.5,169.4 L65.5,169.4 L66.5,169.4 L67.5,169.4 L68.5,169.4 L69.5,169.4 L70.5,169.4 L71.5,169.4 L72.5,169.4 L73.5,169.4 L74.5,169.4 L75.5,169.4 L76.5,169.4 L77.5,169.4 L78.5,169.4 L79.5,169.4 L80.5,169.4 L81.5,169.4 L82.5,169.4 L83.5,169.4 L84.5,169.4 L85.5,169.4 L86.5,169.4 L87.5,169.4 L88.5,169.4 L89.5,169.4 L90.5,169.4 L91.5,169.4 L92.5,169.4 L93.5,169.4 L94.5,169.4 L95.5,169.4 L96.5,169.4 L97.5,169.4 L98.5,169.4 L99.5,169.4 L100.5,169.4 L101.5,169.4 L102.5,169.4 L103.5,169.4 L104.5,169.4 L105.5,169.4 L106.5,169.4 L107.5,169.4 L108.5,169.4 L109.5,169.4 L110.5,169.4 L111.5,169.4 L112.5,169.4 L113.5,169.4 L114.5,169.4 L115.5,169.4 L116.5,169.4 L117.5,169.4 L118.5,169.4 L119.5,169.4 L120.5,169.4 L121.5,169.4 L122.5,169.4 L123.5,169.4 L124.5,169.4 L125.5,169.4 L126.5,169.4 L127.5,169.4 L128.5,169.4 L129.5,169.4 L130.5,169.4 L131.5,169.4 L132.5,169.4 L133.5,169.4 L134.5,169.4 L135.5,169.4 L136.5,169.4 L137.5,169.4 L138.5,169.4 L139.5,169.4 L140.5,169.4 L141.5,169.4 L142.5,169.4 L143.5,169.4 L144.5,169.5 L145.5,169.5 L146.5,169.5 L147.5,169.5 L148.5,169.5 L149.5,169.5 L150.5,169.5 L151.5,169.5 L152.5,169.6 L153.5,169.6 L154.5,169.6 L155.5,169.6 L156.5,169.6 L157.5,169.7 L158.5,169.7 L159.5,169.7 L160.5,169.7 L161.5,169.8 L162.5,169.8 L163.5,169.8 L164.5,169.9 L165.5,169.9 L166.5,170.0 L167.5,170.0 L168.5,170.1 L169.5,170.2 L170.5,170.3 L171.5,170.4 L172.5,170.5 L173.5,170.7 L174.5,170.8 L175.5,171.0 L176.5,171.2 L177.4,171.3 L178.4,171.5 L179.4,171.7 L180.4,171.9 L181.4,172.0 L182.4,172.2 L183.4,172.4 L184.3,172.6 L185.3,172.7 L186.3,172.9 L187.3,173.1 L188.3,173.3 L189.3,173.5 L190.2,173.7 L191.2,173.9 L192.2,174.1 L193.2,174.3 L194.1,174.6 L195.1,174.8 L196.1,175.1 L197.0,175.3 L198.0,175.6 L199.0,175.9 L199.9,176.2 L200.9,176.5 L201.8,176.8 L202.8,177.1 L203.7,177.5 L204.7,177.8 L205.6,178.1 L206.5,178.5 L207.5,178.8 L208.4,179.2 L209.3,179.6 L210.3,180.0 L211.2,180.3 L212.1,180.8 L213.0,181.2 L213.9,181.6 L214.8,182.0 L215.7,182.5 L216.6,182.9 L217.5,183.4 L218.4,183.8 L219.3,184.3 L220.1,184.8 L221.0,185.3 L221.9,185.8 L222.8,186.3 L223.6,186.8 L224.5,187.3 L225.3,187.8 L226.2,188.3 L227.0,188.8 L227.9,189.4 L228.7,189.9 L229.6,190.5 L230.4,191.0 L231.2,191.6 L232.0,192.1 L232.9,192.7 L233.7,193.3 L234.5,193.9 L235.3,194.5 L236.1,195.1 L236.9,195.7 L237.7,196.3 L238.4,196.9 L239.2,197.6 L240.0,198.2 L240.8,198.8 L241.6,199.5 L242.3,200.1 L243.1,200.7 L243.9,201.4 L244.6,202.0 L245.4,202.7 L246.1,203.3 L246.9,204.0 L247.7,204.6 L248.4,205.3 L249.2,206.0 L249.9,206.6 L250.7,207.3 L251.4,208.0 L252.1,208.6 L252.9,209.3 L253.6,210.0 L254.4,210.6 L255.1,211.3 L255.9,212.0 L256.6,212.7 L257.3,213.4 L258.0,214.1 L258.7,214.8 L259.4,215.5 L260.0,216.3 L260.7,217.0 L261.4,217.8 L262.0,218.5 L262.7,219.3 L263.3,220.0 L264.0,220.8 L264.6,221.6 L265.3,222.3 L265.9,223.1 L266.6,223.8 L267.3,224.6 L267.9,225.3 L268.6,226.1 L269.2,226.8 L269.9,227.6 L270.5,228.3 L271.2,229.1 L271.9,229.9 L272.5,230.6 L273.2,231.4 L273.9,232.1 L274.5,232.9 L275.2,233.6 L275.8,234.4 L276.5,235.1 L277.2,235.9 L277.8,236.6 L278.5,237.3 L279.2,238.1 L279.9,238.8 L280.5,239.5 L281.2,240.3 L281.9,241.0 L282.6,241.7 L283.3,242.4 L284.0,243.2 L284.7,243.9 L285.4,244.6 L286.1,245.3 L286.7,246.1 L287.4,246.8 L288.1,247.5 L288.8,248.2 L289.5,249.0 L290.2,249.7 L290.9,250.4 L291.7,251.0 L292.4,251.7 L293.2,252.4 L293.9,253.0 L294.7,253.7 L295.4,254.3 L296.2,254.9 L297.0,255.6 L297.8,256.2 L298.6,256.8 L299.4,257.3 L300.3,257.9 L301.1,258.4 L302.0,258.9 L302.8,259.4 L303.7,259.9 L304.6,260.3 L305.5,260.8 L306.4,261.2 L307.3,261.6 L308.3,261.9 L309.2,262.2 L310.2,262.5 L311.1,262.8 L312.1,263.0 L313.1,263.2 L314.1,263.4 L315.1,263.5 L316.0,263.6 L317.0,263.6 L318.0,263.6 L319.0,263.6 L320.0,263.5 L321.0,263.4 L322.0,263.2 L323.0,263.0 L323.9,262.8 L324.9,262.5 L325.9,262.2 L326.8,261.9 L327.7,261.5 L328.6,261.1 L329.6,260.7 L330.5,260.3 L331.4,259.8 L332.2,259.4 L333.1,258.9 L334.0,258.4 L334.8,257.8 L335.6,257.3 L336.5,256.7 L337.3,256.1 L338.1,255.5 L338.8,254.9 L339.6,254.3 L340.3,253.6 L341.1,252.9 L341.8,252.2 L342.5,251.5 L343.2,250.8 L343.9,250.1 L344.6,249.4 L345.3,248.7 L346.0,248.0 L346.7,247.2 L347.4,246.5 L348.1,245.8 L348.8,245.1 L349.5,244.3 L350.2,243.6 L350.8,242.9 L351.5,242.1 L352.2,241.4 L352.8,240.6 L353.5,239.9 L354.2,239.1 L354.8,238.4 L355.5,237.7 L356.2,236.9 L356.9,236.2 L357.6,235.5 L358.3,234.8 L359.0,234.1 L359.7,233.3 L360.4,232.6 L361.1,232.0 L361.8,231.3 L362.6,230.6 L363.3,229.9 L364.0,229.2 L364.7,228.5 L365.5,227.8 L366.2,227.1 L366.9,226.4 L367.6,225.7 L368.3,225.0 L369.0,224.2 L369.7,223.5 L370.3,222.8 L371.0,222.0 L371.7,221.3 L372.3,220.5 L373.0,219.8 L373.7,219.0 L374.3,218.3 L375.0,217.5 L375.7,216.8 L376.3,216.1 L377.0,215.3 L377.7,214.6 L378.4,213.9 L379.1,213.2 L379.8,212.4 L380.5,211.7 L381.2,211.0 L381.9,210.3 L382.6,209.6 L383.3,208.9 L384.1,208.2 L384.8,207.5 L385.5,206.9 L386.2,206.2 L387.0,205.5 L387.7,204.8 L388.5,204.2 L389.2,203.5 L390.0,202.9 L390.7,202.2 L391.5,201.6 L392.3,200.9 L393.1,200.3 L393.9,199.7 L394.7,199.1 L395.5,198.5 L396.3,197.9 L397.1,197.3 L397.9,196.8 L398.7,196.2 L399.5,195.6 L400.4,195.1 L401.2,194.5 L402.0,193.9 L402.9,193.4 L403.7,192.9 L404.6,192.3 L405.4,191.8 L406.3,191.3 L407.1,190.8 L408.0,190.3 L408.9,189.8 L409.8,189.4 L410.7,188.9 L411.6,188.5 L412.5,188.0 L413.4,187.6 L414.3,187.2 L415.2,186.8 L416.1,186.4 L417.1,186.1 L418.0,185.7 L418.9,185.3 L419.9,185.0 L420.8,184.7 L421.8,184.3 L422.7,184.0 L423.7,183.7 L424.6,183.5 L425.6,183.2 L426.5,182.9 L427.5,182.6 L428.5,182.3 L429.4,182.1 L430.4,181.8 L431.4,181.5 L432.3,181.3 L433.3,181.0 L434.3,180.8 L435.2,180.5 L436.2,180.3 L437.2,180.1 L438.2,179.8 L439.1,179.6 L440.1,179.3 L441.1,179.1 L442.0,178.9 L443.0,178.6 L444.0,178.4 L445.0,178.2 L445.9,178.0 L446.9,177.7 L447.9,177.5 L448.9,177.3 L449.8,177.0 L450.8,176.8 L451.8,176.6 L452.8,176.4 L453.7,176.1 L454.7,175.9 L455.7,175.7 L456.7,175.5 L457.6,175.3 L458.6,175.0 L459.6,174.8 L460.6,174.6 L461.5,174.4 L462.5,174.2 L463.5,174.0 L464.5,173.8 L465.5,173.6 L466.4,173.4 L467.4,173.2 L468.4,173.1 L469.4,172.9 L470.4,172.7 L471.4,172.5 L472.4,172.4 L473.4,172.2 L474.3,172.1 L475.3,171.9 L476.3,171.8 L477.3,171.7 L478.3,171.5 L479.3,171.4 L480.3,171.3 L481.3,171.2 L482.3,171.1 L483.3,170.9 L484.3,170.8 L485.3,170.7 L486.3,170.6 L487.2,170.5 L488.2,170.4 L489.2,170.3 L490.2,170.2 L491.2,170.1 L492.2,170.0 L493.2,169.9 L494.2,169.8 L495.2,169.8 L496.2,169.7 L497.2,169.6 L498.2,169.5 L499.2,169.4 L500.2,169.4 L501.2,169.3 L502.2,169.2 L503.2,169.2 L504.2,169.1 L505.2,169.0 L506.2,169.0 L507.2,168.9 L508.2,168.9 L509.2,168.8 L510.2,168.8 L511.2,168.7 L512.2,168.7 L513.2,168.6 L514.2,168.6 L515.2,168.6 L516.2,168.5 L517.2,168.5 L518.2,168.5 L519.2,168.4 L520.2,168.4 L521.2,168.4 L522.2,168.4 L523.2,168.3 L524.2,168.3 L525.2,168.3 L526.2,168.3 L527.2,168.3 L528.2,168.2 L529.2,168.2 L530.2,168.2 L531.2,168.2 L532.2,168.2 L533.2,168.2 L534.2,168.2 L535.2,168.2 L536.2,168.1 L537.2,168.1 L538.2,168.1 L539.2,168.1 L540.2,168.1 L541.2,168.1 L542.2,168.1 L543.2,168.1 L544.2,168.1 L545.2,168.1 L546.2,168.1 L547.2,168.1 L548.2,168.1 L549.2,168.1 L550.2,168.1 L551.2,168.0 L552.2,168.0 L553.2,168.0 L554.2,168.0 L555.2,168.0 L556.2,168.0 L557.2,168.0 L558.2,168.0 L559.2,168.0 L560.2,168.0 L561.2,168.0 L562.2,168.0 L563.2,168.0 L564.2,168.0 L565.2,168.0 L566.2,168.0 L567.2,168.0 L568.2,168.0 L569.2,168.0 L570.2,168.0 L571.2,168.0 L572.2,167.9 L573.2,167.9 L574.2,167.9 L575.2,167.9 L576.2,167.9 L577.2,167.9 L578.2,167.9 L579.2,167.9 L580.2,167.9 L581.2,167.9 L582.2,167.9 L583.2,167.9 L584.2,167.9 L585.2,167.9 L586.2,167.9 L587.2,167.9 L588.2,167.9 L589.2,167.9 L590.2,167.9 L591.2,167.9 L592.2,167.9 L593.2,167.9 L594.2,167.9 L595.2,167.9 L596.2,167.9 L597.2,167.9 L598.2,167.9 L599.2,167.9 L600.2,167.9 L601.2,167.9 L602.2,167.9 L603.2,167.9 L604.2,167.9 L605.2,167.9 L606.2,167.9 L607.2,167.9 L608.2,167.9 L609.2,167.9 L610.2,167.9 L611.2,167.9 L612.2,167.9 L613.2,167.9 L614.2,167.9 L615.2,167.9 L616.2,167.9 L617.2,167.9 L618.2,167.9 L619.2,167.9 L620.2,167.9 L621.2,167.9 L622.2,167.9 L623.2,167.9 L624.2,167.9 L625.2,167.9 L626.2,167.9 L627.2,167.9 L628.2,167.9 L629.2,167.9 L630.2,167.9 L631.2,167.9 L632.2,167.9 L633.2,167.9 L634.2,167.9 L635.2,167.9 L636.2,167.9 L637.2,167.9 L638.2,167.9 L639.2,167.9 L640.2,167.9 L641.2,167.9 L642.2,167.9 L643.2,167.9 L644.2,167.9 L645.2,167.9 L646.2,167.9 L647.2,167.9 L648.2,167.9 L649.2,167.9 L650.2,167.9 L651.3,167.9 L652.3,167.9 L653.3,167.9 L654.3,167.9 L655.3,167.9 L656.3,167.9 L657.3,167.9 L658.3,167.9 L659.3,167.9 L660.3,167.9 L661.3,167.9 L662.3,167.9 L663.3,167.9 L664.3,167.9 L665.3,167.9 L666.3,167.9 L667.3,167.9 L668.3,167.9 L669.3,167.9 L670.3,167.9 L671.3,167.9 L672.3,167.9 L673.3,167.9 L674.3,167.9 L675.3,167.9 L676.3,167.9 L677.3,167.9 L678.3,167.9 L679.3,167.9 L680.3,167.9 L681.3,167.9 L682.3,167.9 L683.3,167.9 L684.3,167.9 L685.3,167.9 L686.3,167.9 L687.3,168.0 L688.3,168.0 L689.3,168.0 L690.3,168.0 L691.3,168.0 L692.3,168.0 L693.3,168.0 L694.3,168.0 L695.3,168.0 L696.3,168.0 L697.3,168.0 L698.3,168.0 L699.3,168.0 L700.3,168.0 L701.3,168.0 L702.3,168.0 L703.3,168.0 L704.3,168.0 L705.3,168.0 L706.3,168.0 L707.3,168.0 L708.3,168.0 L709.3,168.0 L710.3,168.0 L711.3,168.0 L712.3,168.0 L713.3,168.0 L714.3,168.0 L715.3,168.0 L716.3,168.0 L717.3,168.0 L718.3,168.0 L719.3,168.0 L720.3,168.0 L721.3,168.0 L722.3,168.0 L723.3,168.0 L724.3,168.0 L725.3,168.0 L726.3,168.0 L727.3,168.0 L728.3,168.0 L729.3,168.0 L730.3,168.0 L731.3,168.0 L732.3,168.0 L733.3,168.0 L734.3,168.0 L735.3,168.0 L736.3,168.0 L737.3,168.0 L738.3,168.0 L739.3,168.0 L740.3,168.0 L741.3,168.0 L742.3,168.0 L743.3,168.0 L744.3,168.0 L745.3,168.0 L746.3,168.0 L747.3,168.0 L748.3,168.0 L749.3,168.0 L750.3,168.0 L751.3,168.0 L752.3,168.0" stroke="#5D9EC7" stroke-width="3.1"/>
<path d="M393.5,-2.0 L393.6,-1.0 L393.7,-0.0 L393.8,1.0 L393.9,2.0 L394.0,3.0 L394.1,4.0 L394.2,5.0 L394.3,6.0 L394.5,7.0 L394.6,8.0 L394.7,9.0 L394.8,10.0 L394.9,10.9 L395.1,11.9 L395.2,12.9 L395.3,13.9 L395.4,14.9 L395.5,15.9 L395.6,16.9 L395.8,17.9 L395.9,18.9 L396.0,19.9 L396.1,20.9 L396.2,21.9 L396.3,22.9 L396.4,23.9 L396.5,24.9 L396.6,25.9 L396.7,26.9 L396.8,27.9 L396.9,28.9 L397.0,29.9 L397.1,30.9 L397.2,31.9 L397.3,32.9 L397.4,33.9 L397.5,34.9 L397.6,35.9 L397.7,36.9 L397.8,37.9 L397.9,38.9 L398.0,39.9 L398.1,40.9 L398.2,41.8 L398.3,42.8 L398.4,43.8 L398.5,44.8 L398.7,45.8 L398.8,46.8 L398.9,47.8 L399.0,48.8 L399.1,49.8 L399.2,50.8 L399.3,51.8 L399.5,52.8 L399.6,53.8 L399.7,54.8 L399.8,55.8 L400.0,56.8 L400.1,57.8 L400.2,58.8 L400.4,59.8 L400.5,60.8 L400.7,61.7 L400.8,62.7 L400.9,63.7 L401.1,64.7 L401.2,65.7 L401.4,66.7 L401.6,67.7 L401.7,68.7 L401.9,69.7 L402.0,70.7 L402.2,71.6 L402.4,72.6 L402.5,73.6 L402.7,74.6 L402.9,75.6 L403.0,76.6 L403.2,77.6 L403.4,78.6 L403.5,79.6 L403.7,80.5 L403.9,81.5 L404.0,82.5 L404.2,83.5 L404.4,84.5 L404.6,85.5 L404.8,86.5 L405.0,87.4 L405.2,88.4 L405.4,89.4 L405.7,90.4 L405.9,91.3 L406.2,92.3 L406.5,93.2 L406.8,94.2 L407.2,95.1 L407.5,96.1 L407.8,97.0 L408.0,97.5 L408.5,98.4 L408.9,99.3 L409.4,100.1 L409.9,101.0 L410.4,101.9 L410.8,102.8 L411.3,103.7 L411.8,104.6 L412.3,105.4 L412.7,106.3 L413.2,107.2 L413.7,108.1 L414.2,109.0 L414.7,109.8 L415.1,110.7 L415.6,111.6 L416.1,112.5 L416.6,113.3 L417.1,114.2 L417.6,115.1 L418.1,115.9 L418.6,116.8 L419.1,117.7 L419.6,118.5 L420.1,119.4 L420.7,120.2 L421.2,121.1 L421.7,122.0 L422.2,122.8 L422.7,123.7 L423.3,124.5 L423.8,125.3 L424.4,126.2 L424.9,127.0 L425.5,127.8 L426.1,128.7 L426.7,129.5 L427.3,130.3 L427.9,131.1 L428.5,131.8 L429.1,132.6 L429.8,133.4 L430.4,134.1 L431.1,134.9 L431.7,135.6 L432.4,136.4 L433.1,137.1 L433.8,137.8 L434.5,138.5 L435.2,139.2 L435.9,139.9 L436.7,140.6 L437.4,141.3 L438.1,142.0 L438.9,142.6 L439.7,143.2 L440.5,143.9 L441.2,144.5 L442.0,145.1 L442.8,145.7 L443.7,146.3 L444.5,146.9 L445.3,147.4 L446.1,148.0 L447.0,148.5 L447.8,149.1 L448.6,149.6 L449.5,150.1 L450.4,150.6 L451.2,151.1 L452.1,151.6 L453.0,152.1 L453.9,152.6 L454.7,153.1 L455.6,153.5 L456.5,153.9 L457.4,154.4 L458.4,154.8 L459.3,155.2 L460.2,155.5 L461.1,155.9 L462.1,156.3 L463.0,156.6 L464.0,156.9 L464.9,157.3 L465.8,157.6 L466.8,157.9 L467.7,158.2 L468.7,158.5 L469.7,158.8 L470.6,159.1 L471.6,159.4 L472.5,159.6 L473.5,159.9 L474.5,160.2 L475.4,160.4 L476.4,160.6 L477.4,160.9 L478.4,161.1 L479.3,161.3 L480.3,161.5 L481.3,161.7 L482.3,161.9 L483.3,162.1 L484.3,162.2 L485.2,162.4 L486.2,162.6 L487.2,162.7 L488.2,162.9 L489.2,163.1 L490.2,163.2 L491.2,163.4 L492.2,163.5 L493.2,163.6 L494.2,163.8 L495.1,163.9 L496.1,164.0 L497.1,164.1 L498.1,164.2 L499.1,164.3 L500.1,164.4 L501.1,164.5 L502.1,164.6 L503.1,164.7 L504.1,164.8 L505.1,164.9 L506.1,164.9 L507.1,165.0 L508.1,165.1 L509.1,165.2 L510.1,165.2 L511.1,165.3 L512.1,165.4 L513.1,165.5 L514.1,165.5 L515.1,165.6 L516.1,165.6 L517.1,165.7 L518.1,165.8 L519.1,165.8 L520.1,165.9 L521.1,165.9 L522.1,166.0 L523.1,166.0 L524.1,166.1 L525.1,166.1 L526.1,166.1 L527.1,166.2 L528.1,166.2 L529.1,166.3 L530.1,166.3 L531.1,166.3 L532.1,166.4 L533.1,166.4 L534.1,166.4 L535.1,166.5 L536.1,166.5 L537.1,166.5 L538.1,166.6 L539.1,166.6 L540.1,166.6 L541.1,166.7 L542.1,166.7 L543.1,166.7 L544.1,166.7 L545.1,166.8 L546.1,166.8 L547.1,166.8 L548.1,166.8 L549.1,166.9 L550.1,166.9 L551.1,166.9 L552.1,166.9 L553.1,166.9 L554.1,167.0 L555.1,167.0 L556.1,167.0 L557.1,167.0 L558.1,167.0 L559.1,167.0 L560.1,167.1 L561.1,167.1 L562.1,167.1 L563.1,167.1 L564.1,167.1 L565.1,167.1 L566.1,167.1 L567.1,167.2 L568.1,167.2 L569.1,167.2 L570.1,167.2 L571.1,167.2 L572.1,167.2 L573.1,167.2 L574.1,167.3 L575.1,167.3 L576.1,167.3 L577.1,167.3 L578.1,167.3 L579.1,167.3 L580.1,167.3 L581.1,167.3 L582.1,167.3 L583.1,167.4 L584.1,167.4 L585.1,167.4 L586.1,167.4 L587.1,167.4 L588.1,167.4 L589.1,167.4 L590.1,167.4 L591.1,167.4 L592.1,167.4 L593.1,167.4 L594.1,167.5 L595.1,167.5 L596.1,167.5 L597.1,167.5 L598.1,167.5 L599.1,167.5 L600.1,167.5 L601.1,167.5 L602.2,167.5 L603.2,167.5 L604.2,167.5 L605.2,167.5 L606.2,167.5 L607.2,167.6 L608.2,167.6 L609.2,167.6 L610.2,167.6 L611.2,167.6 L612.2,167.6 L613.2,167.6 L614.2,167.6 L615.2,167.6 L616.2,167.6 L617.2,167.6 L618.2,167.6 L619.2,167.6 L620.2,167.6 L621.2,167.6 L622.2,167.6 L623.2,167.6 L624.2,167.7 L625.2,167.7 L626.2,167.7 L627.2,167.7 L628.2,167.7 L629.2,167.7 L630.2,167.7 L631.2,167.7 L632.2,167.7 L633.2,167.7 L634.2,167.7 L635.2,167.7 L636.2,167.7 L637.2,167.7 L638.2,167.7 L639.2,167.7 L640.2,167.7 L641.2,167.7 L642.2,167.7 L643.2,167.8 L644.2,167.8 L645.2,167.8 L646.2,167.8 L647.2,167.8 L648.2,167.8 L649.2,167.8 L650.2,167.8 L651.2,167.8 L652.2,167.8 L653.2,167.8 L654.2,167.8 L655.2,167.8 L656.2,167.8 L657.2,167.8 L658.2,167.8 L659.2,167.8 L660.2,167.8 L661.2,167.8 L662.2,167.8 L663.2,167.8 L664.2,167.8 L665.2,167.8 L666.2,167.9 L667.2,167.9 L668.2,167.9 L669.2,167.9 L670.2,167.9 L671.2,167.9 L672.2,167.9 L673.2,167.9 L674.2,167.9 L675.2,167.9 L676.2,167.9 L677.2,167.9 L678.2,167.9 L679.2,167.9 L680.2,167.9 L681.2,167.9 L682.2,167.9 L683.2,167.9 L684.2,167.9 L685.2,167.9 L686.2,167.9 L687.2,167.9 L688.2,167.9 L689.2,167.9 L690.2,167.9 L691.2,167.9 L692.2,167.9 L693.2,167.9 L694.2,167.9 L695.2,167.9 L696.2,167.9 L697.2,167.9 L698.2,167.9 L699.2,167.9 L700.2,167.9 L701.2,167.9 L702.2,168.0 L703.3,168.0 L704.3,168.0 L705.3,168.0 L706.3,168.0 L707.3,168.0 L708.3,168.0 L709.3,168.0 L710.3,168.0 L711.3,168.0 L712.3,168.0 L713.3,168.0 L714.3,168.0 L715.3,168.0 L716.3,168.0 L717.3,168.0 L718.3,168.0 L719.3,168.0 L720.3,168.0 L721.3,168.0 L722.3,168.0 L723.3,168.0 L724.3,168.0 L725.3,168.0 L726.3,168.0 L727.3,168.0 L728.3,168.0 L729.3,168.0 L730.3,168.0 L731.3,168.0 L732.3,168.0 L733.3,168.0 L734.3,168.0 L735.3,168.0 L736.3,168.0 L737.3,168.0 L738.3,168.0 L739.3,168.0 L740.3,168.0 L741.3,168.0 L742.3,168.0 L743.3,168.0 L744.3,168.0 L745.3,168.0 L746.3,168.0 L747.3,168.0 L748.3,168.0 L749.3,168.0 L750.3,168.0 L751.3,168.0 L752.3,168.0" stroke="#FFBF00" stroke-width="3.1"/>
<path d="M61.5,176.0 L62.5,175.8 L63.5,175.7 L64.5,175.5 L65.5,175.4 L66.4,175.2 L67.4,175.1 L68.4,174.9 L69.4,174.8 L70.4,174.6 L71.4,174.5 L72.4,174.4 L73.4,174.2 L74.4,174.1 L75.4,174.0 L76.3,173.8 L77.3,173.7 L78.3,173.6 L79.3,173.5 L80.3,173.4 L81.3,173.3 L82.3,173.2 L83.3,173.1 L84.3,173.0 L85.3,172.9 L86.3,172.8 L87.3,172.7 L88.3,172.6 L89.3,172.5 L90.3,172.4 L91.3,172.3 L92.3,172.2 L93.3,172.1 L94.3,172.1 L95.3,172.0 L96.3,171.9 L97.2,171.8 L98.2,171.8 L99.2,171.7 L100.2,171.6 L101.2,171.6 L102.2,171.5 L103.2,171.4 L104.2,171.4 L105.2,171.3 L106.2,171.2 L107.2,171.2 L108.2,171.1 L109.2,171.1 L110.2,171.0 L111.2,170.9 L112.2,170.9 L113.2,170.8 L114.2,170.8 L115.2,170.7 L116.2,170.7 L117.2,170.6 L118.2,170.6 L119.2,170.5 L120.2,170.5 L121.2,170.5 L122.2,170.4 L123.2,170.4 L124.2,170.3 L125.2,170.3 L126.2,170.3 L127.2,170.2 L128.2,170.2 L129.2,170.2 L130.2,170.1 L131.2,170.1 L132.2,170.1 L133.2,170.1 L134.2,170.0 L135.2,170.0 L136.2,170.0 L137.2,169.9 L138.2,169.9 L139.2,169.9 L140.2,169.8 L141.2,169.8 L142.2,169.8 L143.2,169.8 L144.2,169.7 L145.2,169.7 L146.2,169.7 L147.2,169.6 L148.2,169.6 L149.2,169.6 L150.2,169.5 L151.2,169.5 L152.2,169.5 L153.2,169.5 L154.2,169.4 L155.2,169.4 L156.2,169.4 L157.2,169.4 L158.2,169.3 L159.2,169.3 L160.2,169.3 L161.2,169.3 L162.2,169.3 L163.2,169.2 L164.2,169.2 L165.2,169.2 L166.2,169.2 L167.2,169.2 L168.2,169.2 L169.2,169.1 L170.2,169.1 L171.2,169.1 L172.2,169.1 L173.2,169.1 L174.2,169.1 L175.2,169.1 L176.2,169.1 L177.2,169.1 L178.2,169.1 L179.2,169.1 L180.2,169.1 L181.2,169.1 L182.2,169.1 L183.2,169.1 L184.2,169.1 L185.2,169.1 L186.2,169.1 L187.2,169.1 L188.2,169.1 L189.2,169.1 L190.2,169.1 L191.2,169.1 L192.2,169.1 L193.2,169.1 L194.2,169.1 L195.2,169.2 L196.2,169.2 L197.2,169.2 L198.2,169.2 L199.2,169.2 L200.2,169.2 L201.2,169.2 L202.2,169.2 L203.2,169.2 L204.2,169.3 L205.2,169.3 L206.2,169.3 L207.2,169.3 L208.2,169.3 L209.2,169.3 L210.2,169.3 L211.2,169.4 L212.2,169.4 L213.2,169.4 L214.2,169.4 L215.2,169.4 L216.2,169.5 L217.2,169.5 L218.2,169.5 L219.2,169.6 L220.2,169.6 L221.2,169.7 L222.2,169.7 L223.2,169.7 L224.2,169.8 L225.2,169.8 L226.2,169.9 L227.2,170.0 L228.2,170.0 L229.2,170.1 L230.2,170.1 L231.2,170.2 L232.2,170.3 L233.2,170.4 L234.2,170.5 L235.2,170.5 L236.2,170.6 L237.2,170.7 L238.2,170.8 L239.2,170.9 L240.1,171.0 L241.1,171.1 L242.1,171.3 L243.1,171.4 L244.1,171.5 L245.1,171.6 L246.1,171.8 L247.1,171.9 L248.1,172.0 L249.1,172.2 L250.1,172.3 L251.0,172.5 L252.0,172.6 L253.0,172.8 L254.0,173.0 L255.0,173.2 L256.0,173.4 L256.9,173.6 L257.9,173.8 L258.9,174.0 L259.9,174.2 L260.9,174.4 L261.8,174.6 L262.8,174.9 L263.8,175.1 L264.7,175.4 L265.7,175.6 L266.7,175.9 L267.6,176.1 L268.6,176.4 L269.6,176.7 L270.5,177.0 L271.5,177.3 L272.4,177.6 L273.4,177.9 L274.3,178.2 L275.3,178.5 L276.2,178.9 L277.2,179.2 L278.1,179.6 L279.0,179.9 L280.0,180.3 L280.9,180.6 L281.8,181.0 L282.7,181.5 L283.6,181.9 L284.5,182.4 L285.4,182.9 L286.2,183.3 L287.1,183.9 L288.0,184.4 L288.8,184.9 L289.7,185.4 L290.5,185.9 L291.4,186.4 L292.3,186.9 L293.1,187.4 L294.0,187.9 L294.8,188.4 L295.7,189.0 L296.5,189.5 L297.3,190.1 L298.1,190.7 L299.0,191.3 L299.8,191.9 L300.6,192.5 L301.4,193.1 L302.1,193.7 L302.9,194.3 L303.7,194.9 L304.5,195.6 L305.2,196.2 L306.0,196.9 L306.7,197.5 L307.5,198.2 L308.2,198.9 L309.0,199.6 L309.7,200.2 L310.4,200.9 L311.1,201.6 L311.8,202.3 L312.5,203.0 L313.3,203.7 L314.0,204.4 L314.7,205.2 L315.4,205.9 L316.1,206.6 L316.8,207.3 L317.5,208.0 L318.2,208.7 L318.9,209.4 L319.6,210.1 L320.3,210.8 L321.0,211.6 L321.7,212.3 L322.3,213.0 L323.0,213.8 L323.7,214.5 L324.3,215.3 L325.0,216.0 L325.7,216.8 L326.4,217.5 L327.0,218.2 L327.7,219.0 L328.4,219.7 L329.1,220.5 L329.7,221.2 L330.4,221.9 L331.1,222.7 L331.8,223.4 L332.4,224.1 L333.1,224.9 L333.8,225.6 L334.4,226.4 L335.1,227.1 L335.7,227.9 L336.3,228.7 L337.0,229.5 L337.6,230.2 L338.2,231.0 L338.8,231.8 L339.5,232.6 L340.1,233.4 L340.7,234.1 L341.4,234.9 L342.0,235.7 L342.6,236.5 L343.3,237.2 L343.9,238.0 L344.6,238.7 L345.3,239.5 L345.9,240.2 L346.6,241.0 L347.3,241.7 L348.0,242.4 L348.7,243.1 L349.4,243.8 L350.1,244.5 L350.8,245.2 L351.6,245.8 L352.4,246.5 L353.1,247.1 L353.9,247.7 L354.7,248.3 L355.5,248.9 L356.4,249.5 L357.2,250.0 L358.0,250.6 L358.9,251.1 L359.8,251.6 L360.7,252.0 L361.6,252.4 L362.5,252.8 L363.4,253.2 L364.4,253.5 L365.3,253.8 L366.3,254.0 L367.2,254.2 L368.2,254.4 L369.2,254.5 L370.2,254.5 L371.2,254.6 L372.2,254.5 L373.2,254.4 L374.2,254.3 L375.2,254.2 L376.1,254.0 L377.1,253.8 L378.1,253.5 L379.0,253.2 L380.0,252.9 L380.9,252.5 L381.8,252.1 L382.7,251.7 L383.6,251.2 L384.4,250.7 L385.3,250.2 L386.1,249.7 L386.9,249.1 L387.8,248.5 L388.5,247.9 L389.3,247.3 L390.1,246.6 L390.8,246.0 L391.6,245.3 L392.3,244.6 L393.0,243.9 L393.8,243.2 L394.5,242.5 L395.2,241.8 L395.9,241.1 L396.6,240.4 L397.3,239.7 L397.9,238.9 L398.6,238.2 L399.3,237.5 L400.0,236.7 L400.7,236.0 L401.3,235.3 L402.0,234.5 L402.7,233.8 L403.4,233.1 L404.1,232.3 L404.7,231.6 L405.4,230.9 L406.1,230.1 L406.7,229.4 L407.4,228.6 L408.0,227.8 L408.6,227.1 L409.2,226.3 L409.8,225.5 L410.4,224.7 L411.0,223.8 L411.6,223.0 L412.2,222.2 L412.8,221.4 L413.4,220.6 L414.0,219.8 L414.6,219.0 L415.2,218.2 L415.8,217.4 L416.4,216.6 L417.0,215.8 L417.6,215.0 L418.2,214.3 L418.9,213.5 L419.5,212.7 L420.1,211.9 L420.8,211.2 L421.4,210.4 L422.1,209.6 L422.7,208.9 L423.4,208.1 L424.0,207.4 L424.7,206.6 L425.3,205.9 L426.0,205.1 L426.7,204.4 L427.4,203.7 L428.1,203.0 L428.8,202.3 L429.6,201.6 L430.3,201.0 L431.1,200.3 L431.8,199.7 L432.6,199.0 L433.4,198.4 L434.2,197.8 L435.0,197.2 L435.8,196.6 L436.6,196.0 L437.4,195.4 L438.2,194.8 L439.0,194.2 L439.8,193.6 L440.6,193.0 L441.4,192.5 L442.3,191.9 L443.1,191.4 L444.0,190.8 L444.8,190.3 L445.7,189.8 L446.5,189.3 L447.4,188.7 L448.2,188.2 L449.1,187.7 L450.0,187.2 L450.8,186.7 L451.7,186.2 L452.6,185.8 L453.4,185.3 L454.3,184.8 L455.2,184.3 L456.1,183.8 L457.0,183.4 L457.9,182.9 L458.7,182.5 L459.6,182.0 L460.5,181.6 L461.4,181.1 L462.3,180.7 L463.2,180.2 L464.1,179.8 L465.0,179.4 L465.9,179.0 L466.9,178.6 L467.8,178.2 L468.7,177.8 L469.6,177.4 L470.6,177.1 L471.5,176.7 L472.4,176.4 L473.4,176.1 L474.4,175.8 L475.3,175.5 L476.3,175.3 L477.2,175.0 L478.2,174.8 L479.2,174.5 L480.2,174.3 L481.1,174.1 L482.1,173.8 L483.1,173.6 L484.1,173.4 L485.0,173.2 L486.0,173.0 L487.0,172.8 L488.0,172.6 L489.0,172.4 L489.9,172.2 L490.9,172.1 L491.9,171.9 L492.9,171.8 L493.9,171.6 L494.9,171.5 L495.9,171.3 L496.9,171.2 L497.9,171.1 L498.9,171.0 L499.8,170.8 L500.8,170.7 L501.8,170.6 L502.8,170.5 L503.8,170.4 L504.8,170.3 L505.8,170.2 L506.8,170.1 L507.8,170.0 L508.8,169.9 L509.8,169.8 L510.8,169.8 L511.8,169.7 L512.8,169.6 L513.8,169.6 L514.8,169.5 L515.8,169.5 L516.8,169.4 L517.8,169.4 L518.8,169.3 L519.8,169.3 L520.8,169.3 L521.8,169.2 L522.8,169.2 L523.8,169.2 L524.8,169.2 L525.8,169.1 L526.8,169.1 L527.8,169.1 L528.8,169.1 L529.8,169.1 L530.8,169.0 L531.8,169.0 L532.8,169.0 L533.8,169.0 L534.8,169.0 L535.8,169.0 L536.8,169.0 L537.8,169.0 L538.8,168.9 L539.8,168.9 L540.8,168.9 L541.8,168.9 L542.8,168.9 L543.8,168.9 L544.8,168.9 L545.8,168.9 L546.8,168.8 L547.8,168.8 L548.8,168.8 L549.8,168.8 L550.8,168.8 L551.8,168.8 L552.8,168.8 L553.8,168.8 L554.8,168.8 L555.8,168.7 L556.8,168.7 L557.8,168.7 L558.8,168.7 L559.8,168.7 L560.8,168.7 L561.8,168.7 L562.8,168.7 L563.8,168.7 L564.8,168.6 L565.8,168.6 L566.8,168.6 L567.8,168.6 L568.8,168.6 L569.8,168.6 L570.8,168.6 L571.8,168.6 L572.8,168.6 L573.8,168.6 L574.8,168.6 L575.8,168.6 L576.8,168.5 L577.8,168.5 L578.8,168.5 L579.8,168.5 L580.8,168.5 L581.8,168.5 L582.8,168.5 L583.8,168.5 L584.8,168.5 L585.8,168.5 L586.8,168.5 L587.8,168.5 L588.8,168.5 L589.8,168.5 L590.8,168.5 L591.8,168.4 L592.8,168.4 L593.8,168.4 L594.8,168.4 L595.8,168.4 L596.8,168.4 L597.8,168.4 L598.8,168.4 L599.8,168.4 L600.8,168.4 L601.8,168.4 L602.8,168.4 L603.8,168.4 L604.8,168.4 L605.8,168.4 L606.8,168.4 L607.8,168.4 L608.8,168.4 L609.8,168.4 L610.8,168.3 L611.8,168.3 L612.8,168.3 L613.8,168.3 L614.8,168.3 L615.8,168.3 L616.8,168.3 L617.8,168.3 L618.8,168.3 L619.8,168.3 L620.8,168.3 L621.8,168.3 L622.8,168.3 L623.8,168.3 L624.8,168.3 L625.8,168.3 L626.8,168.3 L627.8,168.3 L628.8,168.3 L629.8,168.3 L630.8,168.3 L631.8,168.3 L632.8,168.3 L633.8,168.3 L634.8,168.2 L635.8,168.2 L636.8,168.2 L637.8,168.2 L638.8,168.2 L639.8,168.2 L640.8,168.2 L641.8,168.2 L642.8,168.2 L643.8,168.2 L644.8,168.2 L645.8,168.2 L646.8,168.2 L647.8,168.2 L648.8,168.2 L649.8,168.2 L650.8,168.2 L651.8,168.2 L652.8,168.2 L653.8,168.2 L654.8,168.2 L655.8,168.2 L656.8,168.2 L657.8,168.2 L658.8,168.2 L659.8,168.2 L660.8,168.2 L661.8,168.2 L662.8,168.1 L663.8,168.1 L664.8,168.1 L665.8,168.1 L666.8,168.1 L667.8,168.1 L668.8,168.1 L669.8,168.1 L670.8,168.1 L671.8,168.1 L672.8,168.1 L673.8,168.1 L674.8,168.1 L675.8,168.1 L676.8,168.1 L677.8,168.1 L678.8,168.1 L679.8,168.1 L680.8,168.1 L681.8,168.1 L682.8,168.1 L683.8,168.1 L684.8,168.1 L685.8,168.1 L686.8,168.1 L687.8,168.1 L688.8,168.1 L689.8,168.1 L690.8,168.1 L691.8,168.1 L692.8,168.1 L693.8,168.1 L694.8,168.1 L695.8,168.1 L696.8,168.1 L697.8,168.1 L698.8,168.1 L699.8,168.1 L700.8,168.1 L701.8,168.1 L702.8,168.1 L703.8,168.1 L704.8,168.1 L705.8,168.1 L706.8,168.1 L707.8,168.0 L708.8,168.0 L709.8,168.0 L710.8,168.0 L711.8,168.0 L712.8,168.0 L713.8,168.0 L714.8,168.0 L715.8,168.0 L716.8,168.0 L717.8,168.0 L718.8,168.0 L719.8,168.0 L720.8,168.0 L721.8,168.0 L722.8,168.0 L723.8,168.0 L724.8,168.0 L725.8,168.0 L726.8,168.0 L727.8,168.0 L728.8,168.0 L729.8,168.0 L730.8,168.0 L731.8,168.0 L732.8,168.0 L733.8,168.0 L734.8,168.0 L735.8,168.0 L736.8,168.0 L737.8,168.0 L738.8,168.0 L739.8,168.0 L740.8,168.0 L741.8,168.0 L742.8,168.0 L743.8,168.0 L744.8,168.0 L745.8,168.0 L746.8,168.0 L747.8,168.0 L748.8,168.0 L749.8,168.0 L750.8,168.0 L751.8,168.0 L752.8,168.0" stroke="#A5609D" stroke-width="3.1"/>
</g>
<line x1="60.5" y1="244.39999999999998" x2="757.0" y2="244.39999999999998" stroke="#000" stroke-width="2.1"/>
<circle cx="89.8" cy="403.8" r="4.55" fill="#ff0000"/>
<circle cx="229.7" cy="285.8" r="4.55" fill="#ff0000"/>
<circle cx="312" cy="264" r="4.55" fill="#ff0000"/>
<circle cx="370.8" cy="254.8" r="4.55" fill="#ff0000"/>
<path d="M71.5,431.16 L72.5,429.58 L73.5,428.01 L74.5,426.44 L75.5,424.89 L76.5,423.36 L77.5,421.83 L78.5,420.31 L79.5,418.80 L80.5,417.30 L81.5,415.81 L82.5,414.33 L83.5,412.86 L84.5,411.41 L85.5,409.96 L86.5,408.52 L87.5,407.09 L88.5,405.67 L89.5,404.27 L90.5,402.87 L91.5,401.48 L92.5,400.10 L93.5,398.73 L94.5,397.37 L95.5,396.02 L96.5,394.68 L97.5,393.35 L98.5,392.03 L99.5,390.72 L100.5,389.41 L101.5,388.12 L102.5,386.84 L103.5,385.56 L104.5,384.30 L105.5,383.04 L106.5,381.79 L107.5,380.56 L108.5,379.33 L109.5,378.11 L110.5,376.90 L111.5,375.70 L112.5,374.51 L113.5,373.32 L114.5,372.15 L115.5,370.98 L116.5,369.83 L117.5,368.68 L118.5,367.54 L119.5,366.41 L120.5,365.29 L121.5,364.17 L122.5,363.07 L123.5,361.97 L124.5,360.88 L125.5,359.80 L126.5,358.73 L127.5,357.67 L128.5,356.62 L129.5,355.57 L130.5,354.53 L131.5,353.50 L132.5,352.48 L133.5,351.47 L134.5,350.47 L135.5,349.47 L136.5,348.48 L137.5,347.50 L138.5,346.53 L139.5,345.56 L140.5,344.60 L141.5,343.66 L142.5,342.71 L143.5,341.78 L144.5,340.85 L145.5,339.94 L146.5,339.03 L147.5,338.12 L148.5,337.23 L149.5,336.34 L150.5,335.46 L151.5,334.59 L152.5,333.72 L153.5,332.86 L154.5,332.01 L155.5,331.17 L156.5,330.33 L157.5,329.50 L158.5,328.68 L159.5,327.87 L160.5,327.06 L161.5,326.26 L162.5,325.47 L163.5,324.68 L164.5,323.90 L165.5,323.13 L166.5,322.36 L167.5,321.60 L168.5,320.85 L169.5,320.10 L170.5,319.37 L171.5,318.63 L172.5,317.91 L173.5,317.19 L174.5,316.48 L175.5,315.77 L176.5,315.07 L177.5,314.38 L178.5,313.69 L179.5,313.01 L180.5,312.34 L181.5,311.67 L182.5,311.01 L183.5,310.36 L184.5,309.71 L185.5,309.07 L186.5,308.43 L187.5,307.80 L188.5,307.17 L189.5,306.56 L190.5,305.94 L191.5,305.34 L192.5,304.74 L193.5,304.14 L194.5,303.55 L195.5,302.97 L196.5,302.39 L197.5,301.82 L198.5,301.25 L199.5,300.69 L200.5,300.14 L201.5,299.59 L202.5,299.04 L203.5,298.51 L204.5,297.97 L205.5,297.44 L206.5,296.92 L207.5,296.40 L208.5,295.89 L209.5,295.39 L210.5,294.88 L211.5,294.39 L212.5,293.90 L213.5,293.41 L214.5,292.93 L215.5,292.45 L216.5,291.98 L217.5,291.51 L218.5,291.05 L219.5,290.60 L220.5,290.14 L221.5,289.70 L222.5,289.25 L223.5,288.82 L224.5,288.38 L225.5,287.95 L226.5,287.53 L227.5,287.11 L228.5,286.70 L229.5,286.29 L230.5,285.88 L231.5,285.48 L232.5,285.08 L233.5,284.69 L234.5,284.30 L235.5,283.91 L236.5,283.53 L237.5,283.16 L238.5,282.78 L239.5,282.42 L240.5,282.05 L241.5,281.69 L242.5,281.33 L243.5,280.98 L244.5,280.63 L245.5,280.29 L246.5,279.95 L247.5,279.61 L248.5,279.28 L249.5,278.95 L250.5,278.62 L251.5,278.30 L252.5,277.98 L253.5,277.66 L254.5,277.35 L255.5,277.04 L256.5,276.74 L257.5,276.44 L258.5,276.14 L259.5,275.84 L260.5,275.55 L261.5,275.26 L262.5,274.98 L263.5,274.70 L264.5,274.42 L265.5,274.14 L266.5,273.87 L267.5,273.60 L268.5,273.33 L269.5,273.07 L270.5,272.80 L271.5,272.55 L272.5,272.29 L273.5,272.04 L274.5,271.79 L275.5,271.54 L276.5,271.29 L277.5,271.05 L278.5,270.81 L279.5,270.58 L280.5,270.34 L281.5,270.11 L282.5,269.88 L283.5,269.65 L284.5,269.43 L285.5,269.20 L286.5,268.98 L287.5,268.77 L288.5,268.55 L289.5,268.34 L290.5,268.12 L291.5,267.91 L292.5,267.71 L293.5,267.50 L294.5,267.30 L295.5,267.10 L296.5,266.90 L297.5,266.70 L298.5,266.50 L299.5,266.31 L300.5,266.11 L301.5,265.92 L302.5,265.73 L303.5,265.55 L304.5,265.36 L305.5,265.17 L306.5,264.99 L307.5,264.81 L308.5,264.63 L309.5,264.45 L310.5,264.27 L311.5,264.10 L312.5,263.92 L313.5,263.75 L314.5,263.58 L315.5,263.41 L316.5,263.24 L317.5,263.07 L318.5,262.90 L319.5,262.73 L320.5,262.57 L321.5,262.40 L322.5,262.24 L323.5,262.07 L324.5,261.91 L325.5,261.75 L326.5,261.59 L327.5,261.43 L328.5,261.27 L329.5,261.11 L330.5,260.95 L331.5,260.79 L332.5,260.64 L333.5,260.48 L334.5,260.32 L335.5,260.17 L336.5,260.01 L337.5,259.86 L338.5,259.70 L339.5,259.55 L340.5,259.39 L341.5,259.24 L342.5,259.08 L343.5,258.93 L344.5,258.78 L345.5,258.62 L346.5,258.47 L347.5,258.32 L348.5,258.16 L349.5,258.01 L350.5,257.85 L351.5,257.70 L352.5,257.54 L353.5,257.39 L354.5,257.23 L355.5,257.08 L356.5,256.92 L357.5,256.77 L358.5,256.61 L359.5,256.45 L360.5,256.29 L361.5,256.14 L362.5,255.98 L363.5,255.82 L364.5,255.66 L365.5,255.49 L366.5,255.33 L367.5,255.17 L368.5,255.01 L369.5,254.84 L370.5,254.68 L371.5,254.51 L372.5,254.34 L373.5,254.18 L374.5,254.01 L375.5,253.84 L376.5,253.66 L377.5,253.49 L378.5,253.32 L379.5,253.14 L380.5,252.97 L381.5,252.79 L382.5,252.61 L383.5,252.43 L384.5,252.25 L385.5,252.06 L386.5,251.88 L387.5,251.69 L388.5,251.50 L389.5,251.31 L390.5,251.12 L391.5,250.93 L392.5,250.73 L393.5,250.54 L394.5,250.34 L395.5,250.14 L396.5,249.94 L397.5,249.73 L398.5,249.53 L399.5,249.32 L400.5,249.11 L401.5,248.90 L402.5,248.68 L403.5,248.47 L404.5,248.25 L405.5,248.03 L406.5,247.80 L407.5,247.58 L408.5,247.35 L409.5,247.12 L410.5,246.89 L411.5,246.65 L412.5,246.42 L413.5,246.18 L414.5,245.93 L415.5,245.69 L416.5,245.44 L417.5,245.19 L418.5,244.94 L419.5,244.68" fill="none" stroke="#000" stroke-width="1.7" stroke-dasharray="4.3 1.8" clip-path="url(#c)"/>
<line x1="417.8" y1="247.3" x2="417.8" y2="274" stroke="#EB6235" stroke-width="3.2"/>
<path d="M412.3,271.2 L417.7,273.6 L423.1,271.2 L417.7,291.3 Z" fill="#EB6235"/>
<g stroke="#000" stroke-linecap="square"><line x1="60.55" y1="2.15" x2="60.55" y2="432.75" stroke-width="2.5"/><line x1="60.55" y1="2.15" x2="757" y2="2.15" stroke-width="2.3"/><line x1="757" y1="2.15" x2="757" y2="432.75" stroke-width="2.0"/><line x1="60.55" y1="432.75" x2="757" y2="432.75" stroke-width="2.1"/></g>
<g stroke="#000"><line x1="83.7" y1="431.8" x2="83.7" y2="430.5" stroke-width="1.6"/><line x1="83.7" y1="3.0" x2="83.7" y2="4.3" stroke-width="1.6"/><line x1="113.0" y1="431.8" x2="113.0" y2="430.5" stroke-width="1.6"/><line x1="113.0" y1="3.0" x2="113.0" y2="4.3" stroke-width="1.6"/><line x1="142.2" y1="431.8" x2="142.2" y2="430.5" stroke-width="1.6"/><line x1="142.2" y1="3.0" x2="142.2" y2="4.3" stroke-width="1.6"/><line x1="171.5" y1="431.8" x2="171.5" y2="429.7" stroke-width="1.9"/><line x1="171.5" y1="3.0" x2="171.5" y2="5.1" stroke-width="1.9"/><line x1="200.8" y1="431.8" x2="200.8" y2="430.5" stroke-width="1.6"/><line x1="200.8" y1="3.0" x2="200.8" y2="4.3" stroke-width="1.6"/><line x1="230.0" y1="431.8" x2="230.0" y2="430.5" stroke-width="1.6"/><line x1="230.0" y1="3.0" x2="230.0" y2="4.3" stroke-width="1.6"/><line x1="259.3" y1="431.8" x2="259.3" y2="430.5" stroke-width="1.6"/><line x1="259.3" y1="3.0" x2="259.3" y2="4.3" stroke-width="1.6"/><line x1="288.6" y1="431.8" x2="288.6" y2="429.7" stroke-width="1.9"/><line x1="288.6" y1="3.0" x2="288.6" y2="5.1" stroke-width="1.9"/><line x1="317.9" y1="431.8" x2="317.9" y2="430.5" stroke-width="1.6"/><line x1="317.9" y1="3.0" x2="317.9" y2="4.3" stroke-width="1.6"/><line x1="347.2" y1="431.8" x2="347.2" y2="430.5" stroke-width="1.6"/><line x1="347.2" y1="3.0" x2="347.2" y2="4.3" stroke-width="1.6"/><line x1="376.4" y1="431.8" x2="376.4" y2="430.5" stroke-width="1.6"/><line x1="376.4" y1="3.0" x2="376.4" y2="4.3" stroke-width="1.6"/><line x1="405.7" y1="431.8" x2="405.7" y2="429.7" stroke-width="1.9"/><line x1="405.7" y1="3.0" x2="405.7" y2="5.1" stroke-width="1.9"/><line x1="435.0" y1="431.8" x2="435.0" y2="430.5" stroke-width="1.6"/><line x1="435.0" y1="3.0" x2="435.0" y2="4.3" stroke-width="1.6"/><line x1="464.2" y1="431.8" x2="464.2" y2="430.5" stroke-width="1.6"/><line x1="464.2" y1="3.0" x2="464.2" y2="4.3" stroke-width="1.6"/><line x1="493.5" y1="431.8" x2="493.5" y2="430.5" stroke-width="1.6"/><line x1="493.5" y1="3.0" x2="493.5" y2="4.3" stroke-width="1.6"/><line x1="522.8" y1="431.8" x2="522.8" y2="429.7" stroke-width="1.9"/><line x1="522.8" y1="3.0" x2="522.8" y2="5.1" stroke-width="1.9"/><line x1="552.1" y1="431.8" x2="552.1" y2="430.5" stroke-width="1.6"/><line x1="552.1" y1="3.0" x2="552.1" y2="4.3" stroke-width="1.6"/><line x1="581.3" y1="431.8" x2="581.3" y2="430.5" stroke-width="1.6"/><line x1="581.3" y1="3.0" x2="581.3" y2="4.3" stroke-width="1.6"/><line x1="610.6" y1="431.8" x2="610.6" y2="430.5" stroke-width="1.6"/><line x1="610.6" y1="3.0" x2="610.6" y2="4.3" stroke-width="1.6"/><line x1="639.9" y1="431.8" x2="639.9" y2="429.7" stroke-width="1.9"/><line x1="639.9" y1="3.0" x2="639.9" y2="5.1" stroke-width="1.9"/><line x1="669.2" y1="431.8" x2="669.2" y2="430.5" stroke-width="1.6"/><line x1="669.2" y1="3.0" x2="669.2" y2="4.3" stroke-width="1.6"/><line x1="698.5" y1="431.8" x2="698.5" y2="430.5" stroke-width="1.6"/><line x1="698.5" y1="3.0" x2="698.5" y2="4.3" stroke-width="1.6"/><line x1="727.7" y1="431.8" x2="727.7" y2="430.5" stroke-width="1.6"/><line x1="727.7" y1="3.0" x2="727.7" y2="4.3" stroke-width="1.6"/><line x1="757.0" y1="431.8" x2="757.0" y2="429.7" stroke-width="1.9"/><line x1="757.0" y1="3.0" x2="757.0" y2="5.1" stroke-width="1.9"/><line x1="61.5" y1="405.8" x2="62.8" y2="405.8" stroke-width="1.6"/><line x1="756.0" y1="405.8" x2="754.7" y2="405.8" stroke-width="1.6"/><line x1="61.5" y1="378.9" x2="63.6" y2="378.9" stroke-width="1.9"/><line x1="756.0" y1="378.9" x2="753.9" y2="378.9" stroke-width="1.9"/><line x1="61.5" y1="351.9" x2="62.8" y2="351.9" stroke-width="1.6"/><line x1="756.0" y1="351.9" x2="754.7" y2="351.9" stroke-width="1.6"/><line x1="61.5" y1="325.0" x2="62.8" y2="325.0" stroke-width="1.6"/><line x1="756.0" y1="325.0" x2="754.7" y2="325.0" stroke-width="1.6"/><line x1="61.5" y1="298.1" x2="62.8" y2="298.1" stroke-width="1.6"/><line x1="756.0" y1="298.1" x2="754.7" y2="298.1" stroke-width="1.6"/><line x1="61.5" y1="271.1" x2="62.8" y2="271.1" stroke-width="1.6"/><line x1="756.0" y1="271.1" x2="754.7" y2="271.1" stroke-width="1.6"/><line x1="61.5" y1="244.2" x2="63.6" y2="244.2" stroke-width="1.9"/><line x1="756.0" y1="244.2" x2="753.9" y2="244.2" stroke-width="1.9"/><line x1="61.5" y1="217.3" x2="62.8" y2="217.3" stroke-width="1.6"/><line x1="756.0" y1="217.3" x2="754.7" y2="217.3" stroke-width="1.6"/><line x1="61.5" y1="190.3" x2="62.8" y2="190.3" stroke-width="1.6"/><line x1="756.0" y1="190.3" x2="754.7" y2="190.3" stroke-width="1.6"/><line x1="61.5" y1="163.4" x2="62.8" y2="163.4" stroke-width="1.6"/><line x1="756.0" y1="163.4" x2="754.7" y2="163.4" stroke-width="1.6"/><line x1="61.5" y1="136.5" x2="62.8" y2="136.5" stroke-width="1.6"/><line x1="756.0" y1="136.5" x2="754.7" y2="136.5" stroke-width="1.6"/><line x1="61.5" y1="109.5" x2="63.6" y2="109.5" stroke-width="1.9"/><line x1="756.0" y1="109.5" x2="753.9" y2="109.5" stroke-width="1.9"/><line x1="61.5" y1="82.6" x2="62.8" y2="82.6" stroke-width="1.6"/><line x1="756.0" y1="82.6" x2="754.7" y2="82.6" stroke-width="1.6"/><line x1="61.5" y1="55.7" x2="62.8" y2="55.7" stroke-width="1.6"/><line x1="756.0" y1="55.7" x2="754.7" y2="55.7" stroke-width="1.6"/><line x1="61.5" y1="28.8" x2="62.8" y2="28.8" stroke-width="1.6"/><line x1="756.0" y1="28.8" x2="754.7" y2="28.8" stroke-width="1.6"/></g>
</svg>
<div class="t tk" style="left:171.8px;top:437.5px;transform-origin:0 0;transform:translate(-50%,0) scale(1,1.07);">0.8</div>
<div class="t tk" style="left:288.9px;top:437.5px;transform-origin:0 0;transform:translate(-50%,0) scale(1,1.07);">1.0</div>
<div class="t tk" style="left:406.0px;top:437.5px;transform-origin:0 0;transform:translate(-50%,0) scale(1,1.07);">1.2</div>
<div class="t tk" style="left:523.1px;top:437.5px;transform-origin:0 0;transform:translate(-50%,0) scale(1,1.07);">1.4</div>
<div class="t tk" style="left:640.2px;top:437.5px;transform-origin:0 0;transform:translate(-50%,0) scale(1,1.07);">1.6</div>
<div class="t tk" style="left:757.3px;top:437.5px;transform-origin:0 0;transform:translate(-50%,0) scale(1,1.07);">1.8</div>
<div class="t tk" style="left:57.6px;top:99.1px;transform-origin:0 0;transform:translate(-100%,0) scale(1,1.07);">5</div>
<div class="t tk" style="left:57.6px;top:233.8px;transform-origin:0 0;transform:translate(-100%,0) scale(1,1.07);">0</div>
<div class="t tk" style="left:57.6px;top:368.5px;transform-origin:0 0;transform:translate(-100%,0) scale(1,1.07);"><span style="margin-right:2px">−</span>5</div>
<div class="t tk" style="left:408.2px;top:467.9px;transform-origin:50% 0;transform:translate(-50%,0) scale(1.12,1.1)">Δ</div>
<div class="t " style="left:417.4px;top:293.5px;transform-origin:0 0;transform:translate(-50%,0);font-size:17.8px;color:#000">Δ~1.25</div>
<div class="t" style="left:22.8px;top:258.5px;width:0;height:0;transform-origin:0 0;transform:rotate(-90deg) scale(1,1.02);font-weight:bold;color:#666666"><span style="position:absolute;left:0.1px;top:-18.62px;font-size:22px;line-height:1;font-style:italic">g</span><span style="position:absolute;left:13.2px;top:-9.70px;font-size:15px;line-height:1;font-style:italic">i</span><span style="position:absolute;left:24.7px;top:-18.62px;font-size:22px;line-height:1;">,</span><span style="position:absolute;left:44.2px;top:-18.62px;font-size:22px;line-height:1;letter-spacing:0.45px">d=3</span></div>
<div style="position:absolute;left:784.25px;top:118.95px;width:6.5px;height:6.5px;background:#5E81B5;box-shadow:inset 0 0 0 0.5px #4a6690"></div>
<div class="t lg" style="left:803.5px;top:107.78px;font-size:22px">g</div>
<div class="t" style="left:816.0px;top:116.86px;font-size:16px;font-weight:bold;color:#000;transform-origin:0 0;transform:scale(0.94,1)">1</div>
<div style="position:absolute;left:784.25px;top:150.70px;width:6.5px;height:6.5px;background:#E19C24;box-shadow:inset 0 0 0 0.5px #b47d1d"></div>
<div class="t lg" style="left:803.5px;top:139.53px;font-size:22px">g</div>
<div class="t" style="left:816.0px;top:148.61px;font-size:16px;font-weight:bold;color:#000;transform-origin:0 0;transform:scale(0.94,1)">2</div>
<div style="position:absolute;left:784.25px;top:182.45px;width:6.5px;height:6.5px;background:#8FB032;box-shadow:inset 0 0 0 0.5px #728d28"></div>
<div class="t lg" style="left:803.5px;top:171.28px;font-size:22px">g</div>
<div class="t" style="left:816.0px;top:180.36px;font-size:16px;font-weight:bold;color:#000;transform-origin:0 0;transform:scale(0.94,1)">3</div>
<div style="position:absolute;left:784.25px;top:214.20px;width:6.5px;height:6.5px;background:#EB6235;box-shadow:inset 0 0 0 0.5px #bc4e2a"></div>
<div class="t lg" style="left:803.5px;top:203.03px;font-size:22px">g</div>
<div class="t" style="left:816.0px;top:212.11px;font-size:16px;font-weight:bold;color:#000;transform-origin:0 0;transform:scale(0.94,1)">4</div>
<div style="position:absolute;left:784.25px;top:245.95px;width:6.5px;height:6.5px;background:#8778B3;box-shadow:inset 0 0 0 0.5px #6c608f"></div>
<div class="t lg" style="left:803.5px;top:234.78px;font-size:22px">g</div>
<div class="t" style="left:816.0px;top:243.86px;font-size:16px;font-weight:bold;color:#000;transform-origin:0 0;transform:scale(0.94,1)">5</div>
<div style="position:absolute;left:784.25px;top:277.70px;width:6.5px;height:6.5px;background:#C56E1A;box-shadow:inset 0 0 0 0.5px #9e5815"></div>
<div class="t lg" style="left:803.5px;top:266.53px;font-size:22px">g</div>
<div class="t" style="left:816.0px;top:275.61px;font-size:16px;font-weight:bold;color:#000;transform-origin:0 0;transform:scale(0.94,1)">6</div>
<div style="position:absolute;left:784.25px;top:309.45px;width:6.5px;height:6.5px;background:#5D9EC7;box-shadow:inset 0 0 0 0.5px #4a7e9f"></div>
<div class="t lg" style="left:803.5px;top:298.28px;font-size:22px">g</div>
<div class="t" style="left:816.0px;top:307.36px;font-size:16px;font-weight:bold;color:#000;transform-origin:0 0;transform:scale(0.94,1)">7</div>
<div style="position:absolute;left:784.25px;top:341.20px;width:6.5px;height:6.5px;background:#FFBF00;box-shadow:inset 0 0 0 0.5px #cc9900"></div>
<div class="t lg" style="left:803.5px;top:330.03px;font-size:22px">g</div>
<div class="t" style="left:816.0px;top:339.11px;font-size:16px;font-weight:bold;color:#000;transform-origin:0 0;transform:scale(0.94,1)">8</div>
<div style="position:absolute;left:784.25px;top:372.95px;width:6.5px;height:6.5px;background:#A5609D;box-shadow:inset 0 0 0 0.5px #844d7e"></div>
<div class="t lg" style="left:803.5px;top:361.78px;font-size:22px">g</div>
<div class="t" style="left:816.0px;top:370.86px;font-size:16px;font-weight:bold;color:#000;transform-origin:0 0;transform:scale(0.94,1)">9</div>
</div></body></html>
